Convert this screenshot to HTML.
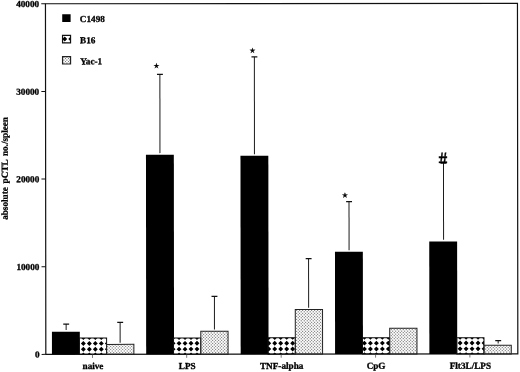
<!DOCTYPE html>
<html lang="en"><head><meta charset="utf-8"><title>absolute pCTL no./spleen</title>
<style>html,body{margin:0;padding:0;background:#fff}body{width:520px;height:372px;overflow:hidden}svg{display:block}text{font-family:'Liberation Serif','DejaVu Serif',serif;font-weight:bold;fill:#000;stroke:#000;stroke-width:0.3px}</style></head><body>
<svg width="520" height="372" viewBox="0 0 520 372">
<defs><clipPath id="c1"><rect x="62.70" y="35.20" width="8.00" height="7.40"/></clipPath><clipPath id="c2"><rect x="62.70" y="56.40" width="8.00" height="7.40"/></clipPath><clipPath id="c3"><rect x="79.17" y="337.82" width="27.27" height="16.33"/></clipPath><clipPath id="c4"><rect x="106.44" y="344.22" width="27.27" height="9.93"/></clipPath><clipPath id="c5"><rect x="173.37" y="337.82" width="27.27" height="16.33"/></clipPath><clipPath id="c6"><rect x="200.64" y="331.22" width="27.27" height="22.93"/></clipPath><clipPath id="c7"><rect x="267.87" y="337.67" width="27.27" height="16.48"/></clipPath><clipPath id="c8"><rect x="295.14" y="309.62" width="27.27" height="44.53"/></clipPath><clipPath id="c9"><rect x="362.27" y="337.77" width="27.27" height="16.38"/></clipPath><clipPath id="c10"><rect x="389.54" y="328.32" width="27.27" height="25.83"/></clipPath><clipPath id="c11"><rect x="456.57" y="337.97" width="27.27" height="16.18"/></clipPath><clipPath id="c12"><rect x="483.84" y="345.42" width="27.27" height="8.73"/></clipPath><clipPath id="c13"><rect x="436.00" y="152.80" width="14.00" height="10.70"/></clipPath></defs>
<rect width="520" height="372" fill="#fff"/>
<g transform="rotate(-0.06 260 186)">
<rect x="45.65" y="3.55" width="472.00" height="350.60" fill="none" stroke="#111" stroke-width="1.2"/>
<line x1="41.45" y1="354.15" x2="45.65" y2="354.15" stroke="#111" stroke-width="1"/>
<text x="39.3" y="357.35" font-size="9.2" text-anchor="end">0</text>
<line x1="41.45" y1="266.50" x2="45.65" y2="266.50" stroke="#111" stroke-width="1"/>
<text x="39.3" y="269.70" font-size="9.2" text-anchor="end">10000</text>
<line x1="41.45" y1="178.85" x2="45.65" y2="178.85" stroke="#111" stroke-width="1"/>
<text x="39.3" y="182.05" font-size="9.2" text-anchor="end">20000</text>
<line x1="41.45" y1="91.20" x2="45.65" y2="91.20" stroke="#111" stroke-width="1"/>
<text x="39.3" y="94.40" font-size="9.2" text-anchor="end">30000</text>
<line x1="41.45" y1="3.55" x2="45.65" y2="3.55" stroke="#111" stroke-width="1"/>
<text x="39.3" y="6.75" font-size="9.2" text-anchor="end">40000</text>
<text transform="translate(7.7 219.6) rotate(-90)" font-size="9.2" word-spacing="1.5">absolute pCTL no./spleen</text>
<rect x="62.4" y="14.1" width="8.4" height="7.7" fill="#000"/>
<text x="80" y="21.9" font-size="9.2">C1498</text>
<path clip-path="url(#c1)" d="M52.94 24.75l2.45 2.45l-2.45 2.45l-2.45 -2.45zM52.94 30.55l2.45 2.45l-2.45 2.45l-2.45 -2.45zM52.94 36.35l2.45 2.45l-2.45 2.45l-2.45 -2.45zM52.94 42.15l2.45 2.45l-2.45 2.45l-2.45 -2.45zM52.94 47.95l2.45 2.45l-2.45 2.45l-2.45 -2.45zM58.92 24.75l2.45 2.45l-2.45 2.45l-2.45 -2.45zM58.92 30.55l2.45 2.45l-2.45 2.45l-2.45 -2.45zM58.92 36.35l2.45 2.45l-2.45 2.45l-2.45 -2.45zM58.92 42.15l2.45 2.45l-2.45 2.45l-2.45 -2.45zM58.92 47.95l2.45 2.45l-2.45 2.45l-2.45 -2.45zM64.90 24.75l2.45 2.45l-2.45 2.45l-2.45 -2.45zM64.90 30.55l2.45 2.45l-2.45 2.45l-2.45 -2.45zM64.90 36.35l2.45 2.45l-2.45 2.45l-2.45 -2.45zM64.90 42.15l2.45 2.45l-2.45 2.45l-2.45 -2.45zM64.90 47.95l2.45 2.45l-2.45 2.45l-2.45 -2.45zM70.88 24.75l2.45 2.45l-2.45 2.45l-2.45 -2.45zM70.88 30.55l2.45 2.45l-2.45 2.45l-2.45 -2.45zM70.88 36.35l2.45 2.45l-2.45 2.45l-2.45 -2.45zM70.88 42.15l2.45 2.45l-2.45 2.45l-2.45 -2.45zM70.88 47.95l2.45 2.45l-2.45 2.45l-2.45 -2.45zM76.86 24.75l2.45 2.45l-2.45 2.45l-2.45 -2.45zM76.86 30.55l2.45 2.45l-2.45 2.45l-2.45 -2.45zM76.86 36.35l2.45 2.45l-2.45 2.45l-2.45 -2.45zM76.86 42.15l2.45 2.45l-2.45 2.45l-2.45 -2.45zM76.86 47.95l2.45 2.45l-2.45 2.45l-2.45 -2.45z" fill="#000"/>
<rect x="62.7" y="35.2" width="8" height="7.4" fill="none" stroke="#111" stroke-width="1.2"/>
<text x="80.2" y="43.1" font-size="9.2">B16</text>
<path clip-path="url(#c2)" d="M50.60 55.40L60.00 64.80M53.60 55.40L63.00 64.80M56.60 55.40L66.00 64.80M59.60 55.40L69.00 64.80M62.60 55.40L72.00 64.80M65.60 55.40L75.00 64.80M68.60 55.40L78.00 64.80M71.60 55.40L81.00 64.80M74.60 55.40L84.00 64.80M59.50 55.40L50.10 64.80M62.50 55.40L53.10 64.80M65.50 55.40L56.10 64.80M68.50 55.40L59.10 64.80M71.50 55.40L62.10 64.80M74.50 55.40L65.10 64.80M77.50 55.40L68.10 64.80M80.50 55.40L71.10 64.80M83.50 55.40L74.10 64.80" stroke="#cacaca" stroke-width="0.42" fill="none"/><path clip-path="url(#c2)" d="M61.05 53.25l0.60 0.60l-0.60 0.60l-0.60 -0.60zM61.05 56.25l0.60 0.60l-0.60 0.60l-0.60 -0.60zM61.05 59.25l0.60 0.60l-0.60 0.60l-0.60 -0.60zM61.05 62.25l0.60 0.60l-0.60 0.60l-0.60 -0.60zM61.05 65.25l0.60 0.60l-0.60 0.60l-0.60 -0.60zM62.55 54.75l0.60 0.60l-0.60 0.60l-0.60 -0.60zM62.55 57.75l0.60 0.60l-0.60 0.60l-0.60 -0.60zM62.55 60.75l0.60 0.60l-0.60 0.60l-0.60 -0.60zM62.55 63.75l0.60 0.60l-0.60 0.60l-0.60 -0.60zM64.05 53.25l0.60 0.60l-0.60 0.60l-0.60 -0.60zM64.05 56.25l0.60 0.60l-0.60 0.60l-0.60 -0.60zM64.05 59.25l0.60 0.60l-0.60 0.60l-0.60 -0.60zM64.05 62.25l0.60 0.60l-0.60 0.60l-0.60 -0.60zM64.05 65.25l0.60 0.60l-0.60 0.60l-0.60 -0.60zM65.55 54.75l0.60 0.60l-0.60 0.60l-0.60 -0.60zM65.55 57.75l0.60 0.60l-0.60 0.60l-0.60 -0.60zM65.55 60.75l0.60 0.60l-0.60 0.60l-0.60 -0.60zM65.55 63.75l0.60 0.60l-0.60 0.60l-0.60 -0.60zM67.05 53.25l0.60 0.60l-0.60 0.60l-0.60 -0.60zM67.05 56.25l0.60 0.60l-0.60 0.60l-0.60 -0.60zM67.05 59.25l0.60 0.60l-0.60 0.60l-0.60 -0.60zM67.05 62.25l0.60 0.60l-0.60 0.60l-0.60 -0.60zM67.05 65.25l0.60 0.60l-0.60 0.60l-0.60 -0.60zM68.55 54.75l0.60 0.60l-0.60 0.60l-0.60 -0.60zM68.55 57.75l0.60 0.60l-0.60 0.60l-0.60 -0.60zM68.55 60.75l0.60 0.60l-0.60 0.60l-0.60 -0.60zM68.55 63.75l0.60 0.60l-0.60 0.60l-0.60 -0.60zM70.05 53.25l0.60 0.60l-0.60 0.60l-0.60 -0.60zM70.05 56.25l0.60 0.60l-0.60 0.60l-0.60 -0.60zM70.05 59.25l0.60 0.60l-0.60 0.60l-0.60 -0.60zM70.05 62.25l0.60 0.60l-0.60 0.60l-0.60 -0.60zM70.05 65.25l0.60 0.60l-0.60 0.60l-0.60 -0.60zM71.55 54.75l0.60 0.60l-0.60 0.60l-0.60 -0.60zM71.55 57.75l0.60 0.60l-0.60 0.60l-0.60 -0.60zM71.55 60.75l0.60 0.60l-0.60 0.60l-0.60 -0.60zM71.55 63.75l0.60 0.60l-0.60 0.60l-0.60 -0.60zM73.05 53.25l0.60 0.60l-0.60 0.60l-0.60 -0.60zM73.05 56.25l0.60 0.60l-0.60 0.60l-0.60 -0.60zM73.05 59.25l0.60 0.60l-0.60 0.60l-0.60 -0.60zM73.05 62.25l0.60 0.60l-0.60 0.60l-0.60 -0.60zM73.05 65.25l0.60 0.60l-0.60 0.60l-0.60 -0.60z" fill="#525252"/>
<rect x="62.7" y="56.4" width="8" height="7.4" fill="none" stroke="#222" stroke-width="1.2"/>
<text x="80.3" y="64.2" font-size="9.2">Yac-1</text>
<path d="M66.00 329.92V323.82" stroke="#1c1c1c" stroke-width="1" fill="none"/><path d="M63.10 323.82H69.00" stroke="#111" stroke-width="1.25" fill="none"/>
<path d="M120.00 342.52V322.22" stroke="#1c1c1c" stroke-width="1" fill="none"/><path d="M117.10 322.22H123.00" stroke="#111" stroke-width="1.25" fill="none"/>
<rect x="51.80" y="331.62" width="27.87" height="22.53" fill="#000"/>
<path clip-path="url(#c3)" d="M71.24 329.20l2.45 2.45l-2.45 2.45l-2.45 -2.45zM71.24 335.00l2.45 2.45l-2.45 2.45l-2.45 -2.45zM71.24 340.80l2.45 2.45l-2.45 2.45l-2.45 -2.45zM71.24 346.60l2.45 2.45l-2.45 2.45l-2.45 -2.45zM71.24 352.40l2.45 2.45l-2.45 2.45l-2.45 -2.45zM71.24 358.20l2.45 2.45l-2.45 2.45l-2.45 -2.45zM77.22 329.20l2.45 2.45l-2.45 2.45l-2.45 -2.45zM77.22 335.00l2.45 2.45l-2.45 2.45l-2.45 -2.45zM77.22 340.80l2.45 2.45l-2.45 2.45l-2.45 -2.45zM77.22 346.60l2.45 2.45l-2.45 2.45l-2.45 -2.45zM77.22 352.40l2.45 2.45l-2.45 2.45l-2.45 -2.45zM77.22 358.20l2.45 2.45l-2.45 2.45l-2.45 -2.45zM83.20 329.20l2.45 2.45l-2.45 2.45l-2.45 -2.45zM83.20 335.00l2.45 2.45l-2.45 2.45l-2.45 -2.45zM83.20 340.80l2.45 2.45l-2.45 2.45l-2.45 -2.45zM83.20 346.60l2.45 2.45l-2.45 2.45l-2.45 -2.45zM83.20 352.40l2.45 2.45l-2.45 2.45l-2.45 -2.45zM83.20 358.20l2.45 2.45l-2.45 2.45l-2.45 -2.45zM89.18 329.20l2.45 2.45l-2.45 2.45l-2.45 -2.45zM89.18 335.00l2.45 2.45l-2.45 2.45l-2.45 -2.45zM89.18 340.80l2.45 2.45l-2.45 2.45l-2.45 -2.45zM89.18 346.60l2.45 2.45l-2.45 2.45l-2.45 -2.45zM89.18 352.40l2.45 2.45l-2.45 2.45l-2.45 -2.45zM89.18 358.20l2.45 2.45l-2.45 2.45l-2.45 -2.45zM95.16 329.20l2.45 2.45l-2.45 2.45l-2.45 -2.45zM95.16 335.00l2.45 2.45l-2.45 2.45l-2.45 -2.45zM95.16 340.80l2.45 2.45l-2.45 2.45l-2.45 -2.45zM95.16 346.60l2.45 2.45l-2.45 2.45l-2.45 -2.45zM95.16 352.40l2.45 2.45l-2.45 2.45l-2.45 -2.45zM95.16 358.20l2.45 2.45l-2.45 2.45l-2.45 -2.45zM101.14 329.20l2.45 2.45l-2.45 2.45l-2.45 -2.45zM101.14 335.00l2.45 2.45l-2.45 2.45l-2.45 -2.45zM101.14 340.80l2.45 2.45l-2.45 2.45l-2.45 -2.45zM101.14 346.60l2.45 2.45l-2.45 2.45l-2.45 -2.45zM101.14 352.40l2.45 2.45l-2.45 2.45l-2.45 -2.45zM101.14 358.20l2.45 2.45l-2.45 2.45l-2.45 -2.45zM107.12 329.20l2.45 2.45l-2.45 2.45l-2.45 -2.45zM107.12 335.00l2.45 2.45l-2.45 2.45l-2.45 -2.45zM107.12 340.80l2.45 2.45l-2.45 2.45l-2.45 -2.45zM107.12 346.60l2.45 2.45l-2.45 2.45l-2.45 -2.45zM107.12 352.40l2.45 2.45l-2.45 2.45l-2.45 -2.45zM107.12 358.20l2.45 2.45l-2.45 2.45l-2.45 -2.45zM113.10 329.20l2.45 2.45l-2.45 2.45l-2.45 -2.45zM113.10 335.00l2.45 2.45l-2.45 2.45l-2.45 -2.45zM113.10 340.80l2.45 2.45l-2.45 2.45l-2.45 -2.45zM113.10 346.60l2.45 2.45l-2.45 2.45l-2.45 -2.45zM113.10 352.40l2.45 2.45l-2.45 2.45l-2.45 -2.45zM113.10 358.20l2.45 2.45l-2.45 2.45l-2.45 -2.45z" fill="#000"/>
<rect x="79.17" y="337.82" width="27.27" height="16.33" fill="none" stroke="#111" stroke-width="1"/>
<path clip-path="url(#c4)" d="M92.42 343.22L104.35 355.15M95.42 343.22L107.35 355.15M98.42 343.22L110.35 355.15M101.42 343.22L113.35 355.15M104.42 343.22L116.35 355.15M107.42 343.22L119.35 355.15M110.42 343.22L122.35 355.15M113.42 343.22L125.35 355.15M116.42 343.22L128.35 355.15M119.42 343.22L131.35 355.15M122.42 343.22L134.35 355.15M125.42 343.22L137.35 355.15M128.42 343.22L140.35 355.15M131.42 343.22L143.35 355.15M134.42 343.22L146.35 355.15M137.42 343.22L149.35 355.15M101.68 343.22L89.75 355.15M104.68 343.22L92.75 355.15M107.68 343.22L95.75 355.15M110.68 343.22L98.75 355.15M113.68 343.22L101.75 355.15M116.68 343.22L104.75 355.15M119.68 343.22L107.75 355.15M122.68 343.22L110.75 355.15M125.68 343.22L113.75 355.15M128.68 343.22L116.75 355.15M131.68 343.22L119.75 355.15M134.68 343.22L122.75 355.15M137.68 343.22L125.75 355.15M140.68 343.22L128.75 355.15M143.68 343.22L131.75 355.15M146.68 343.22L134.75 355.15M149.68 343.22L137.75 355.15" stroke="#cacaca" stroke-width="0.42" fill="none"/><path clip-path="url(#c4)" d="M104.55 342.75l0.60 0.60l-0.60 0.60l-0.60 -0.60zM104.55 345.75l0.60 0.60l-0.60 0.60l-0.60 -0.60zM104.55 348.75l0.60 0.60l-0.60 0.60l-0.60 -0.60zM104.55 351.75l0.60 0.60l-0.60 0.60l-0.60 -0.60zM104.55 354.75l0.60 0.60l-0.60 0.60l-0.60 -0.60zM106.05 341.25l0.60 0.60l-0.60 0.60l-0.60 -0.60zM106.05 344.25l0.60 0.60l-0.60 0.60l-0.60 -0.60zM106.05 347.25l0.60 0.60l-0.60 0.60l-0.60 -0.60zM106.05 350.25l0.60 0.60l-0.60 0.60l-0.60 -0.60zM106.05 353.25l0.60 0.60l-0.60 0.60l-0.60 -0.60zM106.05 356.25l0.60 0.60l-0.60 0.60l-0.60 -0.60zM107.55 342.75l0.60 0.60l-0.60 0.60l-0.60 -0.60zM107.55 345.75l0.60 0.60l-0.60 0.60l-0.60 -0.60zM107.55 348.75l0.60 0.60l-0.60 0.60l-0.60 -0.60zM107.55 351.75l0.60 0.60l-0.60 0.60l-0.60 -0.60zM107.55 354.75l0.60 0.60l-0.60 0.60l-0.60 -0.60zM109.05 341.25l0.60 0.60l-0.60 0.60l-0.60 -0.60zM109.05 344.25l0.60 0.60l-0.60 0.60l-0.60 -0.60zM109.05 347.25l0.60 0.60l-0.60 0.60l-0.60 -0.60zM109.05 350.25l0.60 0.60l-0.60 0.60l-0.60 -0.60zM109.05 353.25l0.60 0.60l-0.60 0.60l-0.60 -0.60zM109.05 356.25l0.60 0.60l-0.60 0.60l-0.60 -0.60zM110.55 342.75l0.60 0.60l-0.60 0.60l-0.60 -0.60zM110.55 345.75l0.60 0.60l-0.60 0.60l-0.60 -0.60zM110.55 348.75l0.60 0.60l-0.60 0.60l-0.60 -0.60zM110.55 351.75l0.60 0.60l-0.60 0.60l-0.60 -0.60zM110.55 354.75l0.60 0.60l-0.60 0.60l-0.60 -0.60zM112.05 341.25l0.60 0.60l-0.60 0.60l-0.60 -0.60zM112.05 344.25l0.60 0.60l-0.60 0.60l-0.60 -0.60zM112.05 347.25l0.60 0.60l-0.60 0.60l-0.60 -0.60zM112.05 350.25l0.60 0.60l-0.60 0.60l-0.60 -0.60zM112.05 353.25l0.60 0.60l-0.60 0.60l-0.60 -0.60zM112.05 356.25l0.60 0.60l-0.60 0.60l-0.60 -0.60zM113.55 342.75l0.60 0.60l-0.60 0.60l-0.60 -0.60zM113.55 345.75l0.60 0.60l-0.60 0.60l-0.60 -0.60zM113.55 348.75l0.60 0.60l-0.60 0.60l-0.60 -0.60zM113.55 351.75l0.60 0.60l-0.60 0.60l-0.60 -0.60zM113.55 354.75l0.60 0.60l-0.60 0.60l-0.60 -0.60zM115.05 341.25l0.60 0.60l-0.60 0.60l-0.60 -0.60zM115.05 344.25l0.60 0.60l-0.60 0.60l-0.60 -0.60zM115.05 347.25l0.60 0.60l-0.60 0.60l-0.60 -0.60zM115.05 350.25l0.60 0.60l-0.60 0.60l-0.60 -0.60zM115.05 353.25l0.60 0.60l-0.60 0.60l-0.60 -0.60zM115.05 356.25l0.60 0.60l-0.60 0.60l-0.60 -0.60zM116.55 342.75l0.60 0.60l-0.60 0.60l-0.60 -0.60zM116.55 345.75l0.60 0.60l-0.60 0.60l-0.60 -0.60zM116.55 348.75l0.60 0.60l-0.60 0.60l-0.60 -0.60zM116.55 351.75l0.60 0.60l-0.60 0.60l-0.60 -0.60zM116.55 354.75l0.60 0.60l-0.60 0.60l-0.60 -0.60zM118.05 341.25l0.60 0.60l-0.60 0.60l-0.60 -0.60zM118.05 344.25l0.60 0.60l-0.60 0.60l-0.60 -0.60zM118.05 347.25l0.60 0.60l-0.60 0.60l-0.60 -0.60zM118.05 350.25l0.60 0.60l-0.60 0.60l-0.60 -0.60zM118.05 353.25l0.60 0.60l-0.60 0.60l-0.60 -0.60zM118.05 356.25l0.60 0.60l-0.60 0.60l-0.60 -0.60zM119.55 342.75l0.60 0.60l-0.60 0.60l-0.60 -0.60zM119.55 345.75l0.60 0.60l-0.60 0.60l-0.60 -0.60zM119.55 348.75l0.60 0.60l-0.60 0.60l-0.60 -0.60zM119.55 351.75l0.60 0.60l-0.60 0.60l-0.60 -0.60zM119.55 354.75l0.60 0.60l-0.60 0.60l-0.60 -0.60zM121.05 341.25l0.60 0.60l-0.60 0.60l-0.60 -0.60zM121.05 344.25l0.60 0.60l-0.60 0.60l-0.60 -0.60zM121.05 347.25l0.60 0.60l-0.60 0.60l-0.60 -0.60zM121.05 350.25l0.60 0.60l-0.60 0.60l-0.60 -0.60zM121.05 353.25l0.60 0.60l-0.60 0.60l-0.60 -0.60zM121.05 356.25l0.60 0.60l-0.60 0.60l-0.60 -0.60zM122.55 342.75l0.60 0.60l-0.60 0.60l-0.60 -0.60zM122.55 345.75l0.60 0.60l-0.60 0.60l-0.60 -0.60zM122.55 348.75l0.60 0.60l-0.60 0.60l-0.60 -0.60zM122.55 351.75l0.60 0.60l-0.60 0.60l-0.60 -0.60zM122.55 354.75l0.60 0.60l-0.60 0.60l-0.60 -0.60zM124.05 341.25l0.60 0.60l-0.60 0.60l-0.60 -0.60zM124.05 344.25l0.60 0.60l-0.60 0.60l-0.60 -0.60zM124.05 347.25l0.60 0.60l-0.60 0.60l-0.60 -0.60zM124.05 350.25l0.60 0.60l-0.60 0.60l-0.60 -0.60zM124.05 353.25l0.60 0.60l-0.60 0.60l-0.60 -0.60zM124.05 356.25l0.60 0.60l-0.60 0.60l-0.60 -0.60zM125.55 342.75l0.60 0.60l-0.60 0.60l-0.60 -0.60zM125.55 345.75l0.60 0.60l-0.60 0.60l-0.60 -0.60zM125.55 348.75l0.60 0.60l-0.60 0.60l-0.60 -0.60zM125.55 351.75l0.60 0.60l-0.60 0.60l-0.60 -0.60zM125.55 354.75l0.60 0.60l-0.60 0.60l-0.60 -0.60zM127.05 341.25l0.60 0.60l-0.60 0.60l-0.60 -0.60zM127.05 344.25l0.60 0.60l-0.60 0.60l-0.60 -0.60zM127.05 347.25l0.60 0.60l-0.60 0.60l-0.60 -0.60zM127.05 350.25l0.60 0.60l-0.60 0.60l-0.60 -0.60zM127.05 353.25l0.60 0.60l-0.60 0.60l-0.60 -0.60zM127.05 356.25l0.60 0.60l-0.60 0.60l-0.60 -0.60zM128.55 342.75l0.60 0.60l-0.60 0.60l-0.60 -0.60zM128.55 345.75l0.60 0.60l-0.60 0.60l-0.60 -0.60zM128.55 348.75l0.60 0.60l-0.60 0.60l-0.60 -0.60zM128.55 351.75l0.60 0.60l-0.60 0.60l-0.60 -0.60zM128.55 354.75l0.60 0.60l-0.60 0.60l-0.60 -0.60zM130.05 341.25l0.60 0.60l-0.60 0.60l-0.60 -0.60zM130.05 344.25l0.60 0.60l-0.60 0.60l-0.60 -0.60zM130.05 347.25l0.60 0.60l-0.60 0.60l-0.60 -0.60zM130.05 350.25l0.60 0.60l-0.60 0.60l-0.60 -0.60zM130.05 353.25l0.60 0.60l-0.60 0.60l-0.60 -0.60zM130.05 356.25l0.60 0.60l-0.60 0.60l-0.60 -0.60zM131.55 342.75l0.60 0.60l-0.60 0.60l-0.60 -0.60zM131.55 345.75l0.60 0.60l-0.60 0.60l-0.60 -0.60zM131.55 348.75l0.60 0.60l-0.60 0.60l-0.60 -0.60zM131.55 351.75l0.60 0.60l-0.60 0.60l-0.60 -0.60zM131.55 354.75l0.60 0.60l-0.60 0.60l-0.60 -0.60zM133.05 341.25l0.60 0.60l-0.60 0.60l-0.60 -0.60zM133.05 344.25l0.60 0.60l-0.60 0.60l-0.60 -0.60zM133.05 347.25l0.60 0.60l-0.60 0.60l-0.60 -0.60zM133.05 350.25l0.60 0.60l-0.60 0.60l-0.60 -0.60zM133.05 353.25l0.60 0.60l-0.60 0.60l-0.60 -0.60zM133.05 356.25l0.60 0.60l-0.60 0.60l-0.60 -0.60zM134.55 342.75l0.60 0.60l-0.60 0.60l-0.60 -0.60zM134.55 345.75l0.60 0.60l-0.60 0.60l-0.60 -0.60zM134.55 348.75l0.60 0.60l-0.60 0.60l-0.60 -0.60zM134.55 351.75l0.60 0.60l-0.60 0.60l-0.60 -0.60zM134.55 354.75l0.60 0.60l-0.60 0.60l-0.60 -0.60zM136.05 341.25l0.60 0.60l-0.60 0.60l-0.60 -0.60zM136.05 344.25l0.60 0.60l-0.60 0.60l-0.60 -0.60zM136.05 347.25l0.60 0.60l-0.60 0.60l-0.60 -0.60zM136.05 350.25l0.60 0.60l-0.60 0.60l-0.60 -0.60zM136.05 353.25l0.60 0.60l-0.60 0.60l-0.60 -0.60zM136.05 356.25l0.60 0.60l-0.60 0.60l-0.60 -0.60z" fill="#525252"/>
<rect x="106.44" y="344.22" width="27.27" height="9.93" fill="none" stroke="#222" stroke-width="1"/>
<line x1="92.31" y1="354.15" x2="92.31" y2="357.75" stroke="#444" stroke-width="0.7"/>
<text x="92.81" y="368.9" font-size="9.2" text-anchor="middle">naive</text>
<path d="M160.00 153.02V74.32" stroke="#1c1c1c" stroke-width="1" fill="none"/><path d="M157.10 74.32H163.00" stroke="#111" stroke-width="1.25" fill="none"/>
<path d="M214.30 329.52V296.22" stroke="#1c1c1c" stroke-width="1" fill="none"/><path d="M211.40 296.22H217.30" stroke="#111" stroke-width="1.25" fill="none"/>
<rect x="146.00" y="154.72" width="27.87" height="199.43" fill="#000"/>
<path clip-path="url(#c5)" d="M166.92 329.20l2.45 2.45l-2.45 2.45l-2.45 -2.45zM166.92 335.00l2.45 2.45l-2.45 2.45l-2.45 -2.45zM166.92 340.80l2.45 2.45l-2.45 2.45l-2.45 -2.45zM166.92 346.60l2.45 2.45l-2.45 2.45l-2.45 -2.45zM166.92 352.40l2.45 2.45l-2.45 2.45l-2.45 -2.45zM166.92 358.20l2.45 2.45l-2.45 2.45l-2.45 -2.45zM172.90 329.20l2.45 2.45l-2.45 2.45l-2.45 -2.45zM172.90 335.00l2.45 2.45l-2.45 2.45l-2.45 -2.45zM172.90 340.80l2.45 2.45l-2.45 2.45l-2.45 -2.45zM172.90 346.60l2.45 2.45l-2.45 2.45l-2.45 -2.45zM172.90 352.40l2.45 2.45l-2.45 2.45l-2.45 -2.45zM172.90 358.20l2.45 2.45l-2.45 2.45l-2.45 -2.45zM178.88 329.20l2.45 2.45l-2.45 2.45l-2.45 -2.45zM178.88 335.00l2.45 2.45l-2.45 2.45l-2.45 -2.45zM178.88 340.80l2.45 2.45l-2.45 2.45l-2.45 -2.45zM178.88 346.60l2.45 2.45l-2.45 2.45l-2.45 -2.45zM178.88 352.40l2.45 2.45l-2.45 2.45l-2.45 -2.45zM178.88 358.20l2.45 2.45l-2.45 2.45l-2.45 -2.45zM184.86 329.20l2.45 2.45l-2.45 2.45l-2.45 -2.45zM184.86 335.00l2.45 2.45l-2.45 2.45l-2.45 -2.45zM184.86 340.80l2.45 2.45l-2.45 2.45l-2.45 -2.45zM184.86 346.60l2.45 2.45l-2.45 2.45l-2.45 -2.45zM184.86 352.40l2.45 2.45l-2.45 2.45l-2.45 -2.45zM184.86 358.20l2.45 2.45l-2.45 2.45l-2.45 -2.45zM190.84 329.20l2.45 2.45l-2.45 2.45l-2.45 -2.45zM190.84 335.00l2.45 2.45l-2.45 2.45l-2.45 -2.45zM190.84 340.80l2.45 2.45l-2.45 2.45l-2.45 -2.45zM190.84 346.60l2.45 2.45l-2.45 2.45l-2.45 -2.45zM190.84 352.40l2.45 2.45l-2.45 2.45l-2.45 -2.45zM190.84 358.20l2.45 2.45l-2.45 2.45l-2.45 -2.45zM196.82 329.20l2.45 2.45l-2.45 2.45l-2.45 -2.45zM196.82 335.00l2.45 2.45l-2.45 2.45l-2.45 -2.45zM196.82 340.80l2.45 2.45l-2.45 2.45l-2.45 -2.45zM196.82 346.60l2.45 2.45l-2.45 2.45l-2.45 -2.45zM196.82 352.40l2.45 2.45l-2.45 2.45l-2.45 -2.45zM196.82 358.20l2.45 2.45l-2.45 2.45l-2.45 -2.45zM202.80 329.20l2.45 2.45l-2.45 2.45l-2.45 -2.45zM202.80 335.00l2.45 2.45l-2.45 2.45l-2.45 -2.45zM202.80 340.80l2.45 2.45l-2.45 2.45l-2.45 -2.45zM202.80 346.60l2.45 2.45l-2.45 2.45l-2.45 -2.45zM202.80 352.40l2.45 2.45l-2.45 2.45l-2.45 -2.45zM202.80 358.20l2.45 2.45l-2.45 2.45l-2.45 -2.45zM208.78 329.20l2.45 2.45l-2.45 2.45l-2.45 -2.45zM208.78 335.00l2.45 2.45l-2.45 2.45l-2.45 -2.45zM208.78 340.80l2.45 2.45l-2.45 2.45l-2.45 -2.45zM208.78 346.60l2.45 2.45l-2.45 2.45l-2.45 -2.45zM208.78 352.40l2.45 2.45l-2.45 2.45l-2.45 -2.45zM208.78 358.20l2.45 2.45l-2.45 2.45l-2.45 -2.45z" fill="#000"/>
<rect x="173.37" y="337.82" width="27.27" height="16.33" fill="none" stroke="#111" stroke-width="1"/>
<path clip-path="url(#c6)" d="M172.42 330.22L197.35 355.15M175.42 330.22L200.35 355.15M178.42 330.22L203.35 355.15M181.42 330.22L206.35 355.15M184.42 330.22L209.35 355.15M187.42 330.22L212.35 355.15M190.42 330.22L215.35 355.15M193.42 330.22L218.35 355.15M196.42 330.22L221.35 355.15M199.42 330.22L224.35 355.15M202.42 330.22L227.35 355.15M205.42 330.22L230.35 355.15M208.42 330.22L233.35 355.15M211.42 330.22L236.35 355.15M214.42 330.22L239.35 355.15M217.42 330.22L242.35 355.15M220.42 330.22L245.35 355.15M223.42 330.22L248.35 355.15M226.42 330.22L251.35 355.15M229.42 330.22L254.35 355.15M232.42 330.22L257.35 355.15M195.68 330.22L170.75 355.15M198.68 330.22L173.75 355.15M201.68 330.22L176.75 355.15M204.68 330.22L179.75 355.15M207.68 330.22L182.75 355.15M210.68 330.22L185.75 355.15M213.68 330.22L188.75 355.15M216.68 330.22L191.75 355.15M219.68 330.22L194.75 355.15M222.68 330.22L197.75 355.15M225.68 330.22L200.75 355.15M228.68 330.22L203.75 355.15M231.68 330.22L206.75 355.15M234.68 330.22L209.75 355.15M237.68 330.22L212.75 355.15M240.68 330.22L215.75 355.15M243.68 330.22L218.75 355.15M246.68 330.22L221.75 355.15M249.68 330.22L224.75 355.15M252.68 330.22L227.75 355.15M255.68 330.22L230.75 355.15" stroke="#cacaca" stroke-width="0.42" fill="none"/><path clip-path="url(#c6)" d="M199.05 329.25l0.60 0.60l-0.60 0.60l-0.60 -0.60zM199.05 332.25l0.60 0.60l-0.60 0.60l-0.60 -0.60zM199.05 335.25l0.60 0.60l-0.60 0.60l-0.60 -0.60zM199.05 338.25l0.60 0.60l-0.60 0.60l-0.60 -0.60zM199.05 341.25l0.60 0.60l-0.60 0.60l-0.60 -0.60zM199.05 344.25l0.60 0.60l-0.60 0.60l-0.60 -0.60zM199.05 347.25l0.60 0.60l-0.60 0.60l-0.60 -0.60zM199.05 350.25l0.60 0.60l-0.60 0.60l-0.60 -0.60zM199.05 353.25l0.60 0.60l-0.60 0.60l-0.60 -0.60zM199.05 356.25l0.60 0.60l-0.60 0.60l-0.60 -0.60zM200.55 327.75l0.60 0.60l-0.60 0.60l-0.60 -0.60zM200.55 330.75l0.60 0.60l-0.60 0.60l-0.60 -0.60zM200.55 333.75l0.60 0.60l-0.60 0.60l-0.60 -0.60zM200.55 336.75l0.60 0.60l-0.60 0.60l-0.60 -0.60zM200.55 339.75l0.60 0.60l-0.60 0.60l-0.60 -0.60zM200.55 342.75l0.60 0.60l-0.60 0.60l-0.60 -0.60zM200.55 345.75l0.60 0.60l-0.60 0.60l-0.60 -0.60zM200.55 348.75l0.60 0.60l-0.60 0.60l-0.60 -0.60zM200.55 351.75l0.60 0.60l-0.60 0.60l-0.60 -0.60zM200.55 354.75l0.60 0.60l-0.60 0.60l-0.60 -0.60zM202.05 329.25l0.60 0.60l-0.60 0.60l-0.60 -0.60zM202.05 332.25l0.60 0.60l-0.60 0.60l-0.60 -0.60zM202.05 335.25l0.60 0.60l-0.60 0.60l-0.60 -0.60zM202.05 338.25l0.60 0.60l-0.60 0.60l-0.60 -0.60zM202.05 341.25l0.60 0.60l-0.60 0.60l-0.60 -0.60zM202.05 344.25l0.60 0.60l-0.60 0.60l-0.60 -0.60zM202.05 347.25l0.60 0.60l-0.60 0.60l-0.60 -0.60zM202.05 350.25l0.60 0.60l-0.60 0.60l-0.60 -0.60zM202.05 353.25l0.60 0.60l-0.60 0.60l-0.60 -0.60zM202.05 356.25l0.60 0.60l-0.60 0.60l-0.60 -0.60zM203.55 327.75l0.60 0.60l-0.60 0.60l-0.60 -0.60zM203.55 330.75l0.60 0.60l-0.60 0.60l-0.60 -0.60zM203.55 333.75l0.60 0.60l-0.60 0.60l-0.60 -0.60zM203.55 336.75l0.60 0.60l-0.60 0.60l-0.60 -0.60zM203.55 339.75l0.60 0.60l-0.60 0.60l-0.60 -0.60zM203.55 342.75l0.60 0.60l-0.60 0.60l-0.60 -0.60zM203.55 345.75l0.60 0.60l-0.60 0.60l-0.60 -0.60zM203.55 348.75l0.60 0.60l-0.60 0.60l-0.60 -0.60zM203.55 351.75l0.60 0.60l-0.60 0.60l-0.60 -0.60zM203.55 354.75l0.60 0.60l-0.60 0.60l-0.60 -0.60zM205.05 329.25l0.60 0.60l-0.60 0.60l-0.60 -0.60zM205.05 332.25l0.60 0.60l-0.60 0.60l-0.60 -0.60zM205.05 335.25l0.60 0.60l-0.60 0.60l-0.60 -0.60zM205.05 338.25l0.60 0.60l-0.60 0.60l-0.60 -0.60zM205.05 341.25l0.60 0.60l-0.60 0.60l-0.60 -0.60zM205.05 344.25l0.60 0.60l-0.60 0.60l-0.60 -0.60zM205.05 347.25l0.60 0.60l-0.60 0.60l-0.60 -0.60zM205.05 350.25l0.60 0.60l-0.60 0.60l-0.60 -0.60zM205.05 353.25l0.60 0.60l-0.60 0.60l-0.60 -0.60zM205.05 356.25l0.60 0.60l-0.60 0.60l-0.60 -0.60zM206.55 327.75l0.60 0.60l-0.60 0.60l-0.60 -0.60zM206.55 330.75l0.60 0.60l-0.60 0.60l-0.60 -0.60zM206.55 333.75l0.60 0.60l-0.60 0.60l-0.60 -0.60zM206.55 336.75l0.60 0.60l-0.60 0.60l-0.60 -0.60zM206.55 339.75l0.60 0.60l-0.60 0.60l-0.60 -0.60zM206.55 342.75l0.60 0.60l-0.60 0.60l-0.60 -0.60zM206.55 345.75l0.60 0.60l-0.60 0.60l-0.60 -0.60zM206.55 348.75l0.60 0.60l-0.60 0.60l-0.60 -0.60zM206.55 351.75l0.60 0.60l-0.60 0.60l-0.60 -0.60zM206.55 354.75l0.60 0.60l-0.60 0.60l-0.60 -0.60zM208.05 329.25l0.60 0.60l-0.60 0.60l-0.60 -0.60zM208.05 332.25l0.60 0.60l-0.60 0.60l-0.60 -0.60zM208.05 335.25l0.60 0.60l-0.60 0.60l-0.60 -0.60zM208.05 338.25l0.60 0.60l-0.60 0.60l-0.60 -0.60zM208.05 341.25l0.60 0.60l-0.60 0.60l-0.60 -0.60zM208.05 344.25l0.60 0.60l-0.60 0.60l-0.60 -0.60zM208.05 347.25l0.60 0.60l-0.60 0.60l-0.60 -0.60zM208.05 350.25l0.60 0.60l-0.60 0.60l-0.60 -0.60zM208.05 353.25l0.60 0.60l-0.60 0.60l-0.60 -0.60zM208.05 356.25l0.60 0.60l-0.60 0.60l-0.60 -0.60zM209.55 327.75l0.60 0.60l-0.60 0.60l-0.60 -0.60zM209.55 330.75l0.60 0.60l-0.60 0.60l-0.60 -0.60zM209.55 333.75l0.60 0.60l-0.60 0.60l-0.60 -0.60zM209.55 336.75l0.60 0.60l-0.60 0.60l-0.60 -0.60zM209.55 339.75l0.60 0.60l-0.60 0.60l-0.60 -0.60zM209.55 342.75l0.60 0.60l-0.60 0.60l-0.60 -0.60zM209.55 345.75l0.60 0.60l-0.60 0.60l-0.60 -0.60zM209.55 348.75l0.60 0.60l-0.60 0.60l-0.60 -0.60zM209.55 351.75l0.60 0.60l-0.60 0.60l-0.60 -0.60zM209.55 354.75l0.60 0.60l-0.60 0.60l-0.60 -0.60zM211.05 329.25l0.60 0.60l-0.60 0.60l-0.60 -0.60zM211.05 332.25l0.60 0.60l-0.60 0.60l-0.60 -0.60zM211.05 335.25l0.60 0.60l-0.60 0.60l-0.60 -0.60zM211.05 338.25l0.60 0.60l-0.60 0.60l-0.60 -0.60zM211.05 341.25l0.60 0.60l-0.60 0.60l-0.60 -0.60zM211.05 344.25l0.60 0.60l-0.60 0.60l-0.60 -0.60zM211.05 347.25l0.60 0.60l-0.60 0.60l-0.60 -0.60zM211.05 350.25l0.60 0.60l-0.60 0.60l-0.60 -0.60zM211.05 353.25l0.60 0.60l-0.60 0.60l-0.60 -0.60zM211.05 356.25l0.60 0.60l-0.60 0.60l-0.60 -0.60zM212.55 327.75l0.60 0.60l-0.60 0.60l-0.60 -0.60zM212.55 330.75l0.60 0.60l-0.60 0.60l-0.60 -0.60zM212.55 333.75l0.60 0.60l-0.60 0.60l-0.60 -0.60zM212.55 336.75l0.60 0.60l-0.60 0.60l-0.60 -0.60zM212.55 339.75l0.60 0.60l-0.60 0.60l-0.60 -0.60zM212.55 342.75l0.60 0.60l-0.60 0.60l-0.60 -0.60zM212.55 345.75l0.60 0.60l-0.60 0.60l-0.60 -0.60zM212.55 348.75l0.60 0.60l-0.60 0.60l-0.60 -0.60zM212.55 351.75l0.60 0.60l-0.60 0.60l-0.60 -0.60zM212.55 354.75l0.60 0.60l-0.60 0.60l-0.60 -0.60zM214.05 329.25l0.60 0.60l-0.60 0.60l-0.60 -0.60zM214.05 332.25l0.60 0.60l-0.60 0.60l-0.60 -0.60zM214.05 335.25l0.60 0.60l-0.60 0.60l-0.60 -0.60zM214.05 338.25l0.60 0.60l-0.60 0.60l-0.60 -0.60zM214.05 341.25l0.60 0.60l-0.60 0.60l-0.60 -0.60zM214.05 344.25l0.60 0.60l-0.60 0.60l-0.60 -0.60zM214.05 347.25l0.60 0.60l-0.60 0.60l-0.60 -0.60zM214.05 350.25l0.60 0.60l-0.60 0.60l-0.60 -0.60zM214.05 353.25l0.60 0.60l-0.60 0.60l-0.60 -0.60zM214.05 356.25l0.60 0.60l-0.60 0.60l-0.60 -0.60zM215.55 327.75l0.60 0.60l-0.60 0.60l-0.60 -0.60zM215.55 330.75l0.60 0.60l-0.60 0.60l-0.60 -0.60zM215.55 333.75l0.60 0.60l-0.60 0.60l-0.60 -0.60zM215.55 336.75l0.60 0.60l-0.60 0.60l-0.60 -0.60zM215.55 339.75l0.60 0.60l-0.60 0.60l-0.60 -0.60zM215.55 342.75l0.60 0.60l-0.60 0.60l-0.60 -0.60zM215.55 345.75l0.60 0.60l-0.60 0.60l-0.60 -0.60zM215.55 348.75l0.60 0.60l-0.60 0.60l-0.60 -0.60zM215.55 351.75l0.60 0.60l-0.60 0.60l-0.60 -0.60zM215.55 354.75l0.60 0.60l-0.60 0.60l-0.60 -0.60zM217.05 329.25l0.60 0.60l-0.60 0.60l-0.60 -0.60zM217.05 332.25l0.60 0.60l-0.60 0.60l-0.60 -0.60zM217.05 335.25l0.60 0.60l-0.60 0.60l-0.60 -0.60zM217.05 338.25l0.60 0.60l-0.60 0.60l-0.60 -0.60zM217.05 341.25l0.60 0.60l-0.60 0.60l-0.60 -0.60zM217.05 344.25l0.60 0.60l-0.60 0.60l-0.60 -0.60zM217.05 347.25l0.60 0.60l-0.60 0.60l-0.60 -0.60zM217.05 350.25l0.60 0.60l-0.60 0.60l-0.60 -0.60zM217.05 353.25l0.60 0.60l-0.60 0.60l-0.60 -0.60zM217.05 356.25l0.60 0.60l-0.60 0.60l-0.60 -0.60zM218.55 327.75l0.60 0.60l-0.60 0.60l-0.60 -0.60zM218.55 330.75l0.60 0.60l-0.60 0.60l-0.60 -0.60zM218.55 333.75l0.60 0.60l-0.60 0.60l-0.60 -0.60zM218.55 336.75l0.60 0.60l-0.60 0.60l-0.60 -0.60zM218.55 339.75l0.60 0.60l-0.60 0.60l-0.60 -0.60zM218.55 342.75l0.60 0.60l-0.60 0.60l-0.60 -0.60zM218.55 345.75l0.60 0.60l-0.60 0.60l-0.60 -0.60zM218.55 348.75l0.60 0.60l-0.60 0.60l-0.60 -0.60zM218.55 351.75l0.60 0.60l-0.60 0.60l-0.60 -0.60zM218.55 354.75l0.60 0.60l-0.60 0.60l-0.60 -0.60zM220.05 329.25l0.60 0.60l-0.60 0.60l-0.60 -0.60zM220.05 332.25l0.60 0.60l-0.60 0.60l-0.60 -0.60zM220.05 335.25l0.60 0.60l-0.60 0.60l-0.60 -0.60zM220.05 338.25l0.60 0.60l-0.60 0.60l-0.60 -0.60zM220.05 341.25l0.60 0.60l-0.60 0.60l-0.60 -0.60zM220.05 344.25l0.60 0.60l-0.60 0.60l-0.60 -0.60zM220.05 347.25l0.60 0.60l-0.60 0.60l-0.60 -0.60zM220.05 350.25l0.60 0.60l-0.60 0.60l-0.60 -0.60zM220.05 353.25l0.60 0.60l-0.60 0.60l-0.60 -0.60zM220.05 356.25l0.60 0.60l-0.60 0.60l-0.60 -0.60zM221.55 327.75l0.60 0.60l-0.60 0.60l-0.60 -0.60zM221.55 330.75l0.60 0.60l-0.60 0.60l-0.60 -0.60zM221.55 333.75l0.60 0.60l-0.60 0.60l-0.60 -0.60zM221.55 336.75l0.60 0.60l-0.60 0.60l-0.60 -0.60zM221.55 339.75l0.60 0.60l-0.60 0.60l-0.60 -0.60zM221.55 342.75l0.60 0.60l-0.60 0.60l-0.60 -0.60zM221.55 345.75l0.60 0.60l-0.60 0.60l-0.60 -0.60zM221.55 348.75l0.60 0.60l-0.60 0.60l-0.60 -0.60zM221.55 351.75l0.60 0.60l-0.60 0.60l-0.60 -0.60zM221.55 354.75l0.60 0.60l-0.60 0.60l-0.60 -0.60zM223.05 329.25l0.60 0.60l-0.60 0.60l-0.60 -0.60zM223.05 332.25l0.60 0.60l-0.60 0.60l-0.60 -0.60zM223.05 335.25l0.60 0.60l-0.60 0.60l-0.60 -0.60zM223.05 338.25l0.60 0.60l-0.60 0.60l-0.60 -0.60zM223.05 341.25l0.60 0.60l-0.60 0.60l-0.60 -0.60zM223.05 344.25l0.60 0.60l-0.60 0.60l-0.60 -0.60zM223.05 347.25l0.60 0.60l-0.60 0.60l-0.60 -0.60zM223.05 350.25l0.60 0.60l-0.60 0.60l-0.60 -0.60zM223.05 353.25l0.60 0.60l-0.60 0.60l-0.60 -0.60zM223.05 356.25l0.60 0.60l-0.60 0.60l-0.60 -0.60zM224.55 327.75l0.60 0.60l-0.60 0.60l-0.60 -0.60zM224.55 330.75l0.60 0.60l-0.60 0.60l-0.60 -0.60zM224.55 333.75l0.60 0.60l-0.60 0.60l-0.60 -0.60zM224.55 336.75l0.60 0.60l-0.60 0.60l-0.60 -0.60zM224.55 339.75l0.60 0.60l-0.60 0.60l-0.60 -0.60zM224.55 342.75l0.60 0.60l-0.60 0.60l-0.60 -0.60zM224.55 345.75l0.60 0.60l-0.60 0.60l-0.60 -0.60zM224.55 348.75l0.60 0.60l-0.60 0.60l-0.60 -0.60zM224.55 351.75l0.60 0.60l-0.60 0.60l-0.60 -0.60zM224.55 354.75l0.60 0.60l-0.60 0.60l-0.60 -0.60zM226.05 329.25l0.60 0.60l-0.60 0.60l-0.60 -0.60zM226.05 332.25l0.60 0.60l-0.60 0.60l-0.60 -0.60zM226.05 335.25l0.60 0.60l-0.60 0.60l-0.60 -0.60zM226.05 338.25l0.60 0.60l-0.60 0.60l-0.60 -0.60zM226.05 341.25l0.60 0.60l-0.60 0.60l-0.60 -0.60zM226.05 344.25l0.60 0.60l-0.60 0.60l-0.60 -0.60zM226.05 347.25l0.60 0.60l-0.60 0.60l-0.60 -0.60zM226.05 350.25l0.60 0.60l-0.60 0.60l-0.60 -0.60zM226.05 353.25l0.60 0.60l-0.60 0.60l-0.60 -0.60zM226.05 356.25l0.60 0.60l-0.60 0.60l-0.60 -0.60zM227.55 327.75l0.60 0.60l-0.60 0.60l-0.60 -0.60zM227.55 330.75l0.60 0.60l-0.60 0.60l-0.60 -0.60zM227.55 333.75l0.60 0.60l-0.60 0.60l-0.60 -0.60zM227.55 336.75l0.60 0.60l-0.60 0.60l-0.60 -0.60zM227.55 339.75l0.60 0.60l-0.60 0.60l-0.60 -0.60zM227.55 342.75l0.60 0.60l-0.60 0.60l-0.60 -0.60zM227.55 345.75l0.60 0.60l-0.60 0.60l-0.60 -0.60zM227.55 348.75l0.60 0.60l-0.60 0.60l-0.60 -0.60zM227.55 351.75l0.60 0.60l-0.60 0.60l-0.60 -0.60zM227.55 354.75l0.60 0.60l-0.60 0.60l-0.60 -0.60zM229.05 329.25l0.60 0.60l-0.60 0.60l-0.60 -0.60zM229.05 332.25l0.60 0.60l-0.60 0.60l-0.60 -0.60zM229.05 335.25l0.60 0.60l-0.60 0.60l-0.60 -0.60zM229.05 338.25l0.60 0.60l-0.60 0.60l-0.60 -0.60zM229.05 341.25l0.60 0.60l-0.60 0.60l-0.60 -0.60zM229.05 344.25l0.60 0.60l-0.60 0.60l-0.60 -0.60zM229.05 347.25l0.60 0.60l-0.60 0.60l-0.60 -0.60zM229.05 350.25l0.60 0.60l-0.60 0.60l-0.60 -0.60zM229.05 353.25l0.60 0.60l-0.60 0.60l-0.60 -0.60zM229.05 356.25l0.60 0.60l-0.60 0.60l-0.60 -0.60zM230.55 327.75l0.60 0.60l-0.60 0.60l-0.60 -0.60zM230.55 330.75l0.60 0.60l-0.60 0.60l-0.60 -0.60zM230.55 333.75l0.60 0.60l-0.60 0.60l-0.60 -0.60zM230.55 336.75l0.60 0.60l-0.60 0.60l-0.60 -0.60zM230.55 339.75l0.60 0.60l-0.60 0.60l-0.60 -0.60zM230.55 342.75l0.60 0.60l-0.60 0.60l-0.60 -0.60zM230.55 345.75l0.60 0.60l-0.60 0.60l-0.60 -0.60zM230.55 348.75l0.60 0.60l-0.60 0.60l-0.60 -0.60zM230.55 351.75l0.60 0.60l-0.60 0.60l-0.60 -0.60zM230.55 354.75l0.60 0.60l-0.60 0.60l-0.60 -0.60z" fill="#525252"/>
<rect x="200.64" y="331.22" width="27.27" height="22.93" fill="none" stroke="#222" stroke-width="1"/>
<line x1="186.50" y1="354.15" x2="186.50" y2="357.75" stroke="#444" stroke-width="0.7"/>
<text x="187.00" y="368.9" font-size="9.2" text-anchor="middle">LPS</text>
<path d="M254.50 154.12V56.92" stroke="#1c1c1c" stroke-width="1" fill="none"/><path d="M251.60 56.92H257.50" stroke="#111" stroke-width="1.25" fill="none"/>
<path d="M308.50 307.92V258.62" stroke="#1c1c1c" stroke-width="1" fill="none"/><path d="M305.60 258.62H311.50" stroke="#111" stroke-width="1.25" fill="none"/>
<rect x="240.50" y="155.82" width="27.87" height="198.33" fill="#000"/>
<path clip-path="url(#c7)" d="M256.62 329.20l2.45 2.45l-2.45 2.45l-2.45 -2.45zM256.62 335.00l2.45 2.45l-2.45 2.45l-2.45 -2.45zM256.62 340.80l2.45 2.45l-2.45 2.45l-2.45 -2.45zM256.62 346.60l2.45 2.45l-2.45 2.45l-2.45 -2.45zM256.62 352.40l2.45 2.45l-2.45 2.45l-2.45 -2.45zM256.62 358.20l2.45 2.45l-2.45 2.45l-2.45 -2.45zM262.60 329.20l2.45 2.45l-2.45 2.45l-2.45 -2.45zM262.60 335.00l2.45 2.45l-2.45 2.45l-2.45 -2.45zM262.60 340.80l2.45 2.45l-2.45 2.45l-2.45 -2.45zM262.60 346.60l2.45 2.45l-2.45 2.45l-2.45 -2.45zM262.60 352.40l2.45 2.45l-2.45 2.45l-2.45 -2.45zM262.60 358.20l2.45 2.45l-2.45 2.45l-2.45 -2.45zM268.58 329.20l2.45 2.45l-2.45 2.45l-2.45 -2.45zM268.58 335.00l2.45 2.45l-2.45 2.45l-2.45 -2.45zM268.58 340.80l2.45 2.45l-2.45 2.45l-2.45 -2.45zM268.58 346.60l2.45 2.45l-2.45 2.45l-2.45 -2.45zM268.58 352.40l2.45 2.45l-2.45 2.45l-2.45 -2.45zM268.58 358.20l2.45 2.45l-2.45 2.45l-2.45 -2.45zM274.56 329.20l2.45 2.45l-2.45 2.45l-2.45 -2.45zM274.56 335.00l2.45 2.45l-2.45 2.45l-2.45 -2.45zM274.56 340.80l2.45 2.45l-2.45 2.45l-2.45 -2.45zM274.56 346.60l2.45 2.45l-2.45 2.45l-2.45 -2.45zM274.56 352.40l2.45 2.45l-2.45 2.45l-2.45 -2.45zM274.56 358.20l2.45 2.45l-2.45 2.45l-2.45 -2.45zM280.54 329.20l2.45 2.45l-2.45 2.45l-2.45 -2.45zM280.54 335.00l2.45 2.45l-2.45 2.45l-2.45 -2.45zM280.54 340.80l2.45 2.45l-2.45 2.45l-2.45 -2.45zM280.54 346.60l2.45 2.45l-2.45 2.45l-2.45 -2.45zM280.54 352.40l2.45 2.45l-2.45 2.45l-2.45 -2.45zM280.54 358.20l2.45 2.45l-2.45 2.45l-2.45 -2.45zM286.52 329.20l2.45 2.45l-2.45 2.45l-2.45 -2.45zM286.52 335.00l2.45 2.45l-2.45 2.45l-2.45 -2.45zM286.52 340.80l2.45 2.45l-2.45 2.45l-2.45 -2.45zM286.52 346.60l2.45 2.45l-2.45 2.45l-2.45 -2.45zM286.52 352.40l2.45 2.45l-2.45 2.45l-2.45 -2.45zM286.52 358.20l2.45 2.45l-2.45 2.45l-2.45 -2.45zM292.50 329.20l2.45 2.45l-2.45 2.45l-2.45 -2.45zM292.50 335.00l2.45 2.45l-2.45 2.45l-2.45 -2.45zM292.50 340.80l2.45 2.45l-2.45 2.45l-2.45 -2.45zM292.50 346.60l2.45 2.45l-2.45 2.45l-2.45 -2.45zM292.50 352.40l2.45 2.45l-2.45 2.45l-2.45 -2.45zM292.50 358.20l2.45 2.45l-2.45 2.45l-2.45 -2.45zM298.48 329.20l2.45 2.45l-2.45 2.45l-2.45 -2.45zM298.48 335.00l2.45 2.45l-2.45 2.45l-2.45 -2.45zM298.48 340.80l2.45 2.45l-2.45 2.45l-2.45 -2.45zM298.48 346.60l2.45 2.45l-2.45 2.45l-2.45 -2.45zM298.48 352.40l2.45 2.45l-2.45 2.45l-2.45 -2.45zM298.48 358.20l2.45 2.45l-2.45 2.45l-2.45 -2.45zM304.46 329.20l2.45 2.45l-2.45 2.45l-2.45 -2.45zM304.46 335.00l2.45 2.45l-2.45 2.45l-2.45 -2.45zM304.46 340.80l2.45 2.45l-2.45 2.45l-2.45 -2.45zM304.46 346.60l2.45 2.45l-2.45 2.45l-2.45 -2.45zM304.46 352.40l2.45 2.45l-2.45 2.45l-2.45 -2.45zM304.46 358.20l2.45 2.45l-2.45 2.45l-2.45 -2.45z" fill="#000"/>
<rect x="267.87" y="337.67" width="27.27" height="16.48" fill="none" stroke="#111" stroke-width="1"/>
<path clip-path="url(#c8)" d="M243.82 308.62L290.35 355.15M246.82 308.62L293.35 355.15M249.82 308.62L296.35 355.15M252.82 308.62L299.35 355.15M255.82 308.62L302.35 355.15M258.82 308.62L305.35 355.15M261.82 308.62L308.35 355.15M264.82 308.62L311.35 355.15M267.82 308.62L314.35 355.15M270.82 308.62L317.35 355.15M273.82 308.62L320.35 355.15M276.82 308.62L323.35 355.15M279.82 308.62L326.35 355.15M282.82 308.62L329.35 355.15M285.82 308.62L332.35 355.15M288.82 308.62L335.35 355.15M291.82 308.62L338.35 355.15M294.82 308.62L341.35 355.15M297.82 308.62L344.35 355.15M300.82 308.62L347.35 355.15M303.82 308.62L350.35 355.15M306.82 308.62L353.35 355.15M309.82 308.62L356.35 355.15M312.82 308.62L359.35 355.15M315.82 308.62L362.35 355.15M318.82 308.62L365.35 355.15M321.82 308.62L368.35 355.15M324.82 308.62L371.35 355.15M292.28 308.62L245.75 355.15M295.28 308.62L248.75 355.15M298.28 308.62L251.75 355.15M301.28 308.62L254.75 355.15M304.28 308.62L257.75 355.15M307.28 308.62L260.75 355.15M310.28 308.62L263.75 355.15M313.28 308.62L266.75 355.15M316.28 308.62L269.75 355.15M319.28 308.62L272.75 355.15M322.28 308.62L275.75 355.15M325.28 308.62L278.75 355.15M328.28 308.62L281.75 355.15M331.28 308.62L284.75 355.15M334.28 308.62L287.75 355.15M337.28 308.62L290.75 355.15M340.28 308.62L293.75 355.15M343.28 308.62L296.75 355.15M346.28 308.62L299.75 355.15M349.28 308.62L302.75 355.15M352.28 308.62L305.75 355.15M355.28 308.62L308.75 355.15M358.28 308.62L311.75 355.15M361.28 308.62L314.75 355.15M364.28 308.62L317.75 355.15M367.28 308.62L320.75 355.15M370.28 308.62L323.75 355.15M373.28 308.62L326.75 355.15" stroke="#cacaca" stroke-width="0.42" fill="none"/><path clip-path="url(#c8)" d="M293.55 306.75l0.60 0.60l-0.60 0.60l-0.60 -0.60zM293.55 309.75l0.60 0.60l-0.60 0.60l-0.60 -0.60zM293.55 312.75l0.60 0.60l-0.60 0.60l-0.60 -0.60zM293.55 315.75l0.60 0.60l-0.60 0.60l-0.60 -0.60zM293.55 318.75l0.60 0.60l-0.60 0.60l-0.60 -0.60zM293.55 321.75l0.60 0.60l-0.60 0.60l-0.60 -0.60zM293.55 324.75l0.60 0.60l-0.60 0.60l-0.60 -0.60zM293.55 327.75l0.60 0.60l-0.60 0.60l-0.60 -0.60zM293.55 330.75l0.60 0.60l-0.60 0.60l-0.60 -0.60zM293.55 333.75l0.60 0.60l-0.60 0.60l-0.60 -0.60zM293.55 336.75l0.60 0.60l-0.60 0.60l-0.60 -0.60zM293.55 339.75l0.60 0.60l-0.60 0.60l-0.60 -0.60zM293.55 342.75l0.60 0.60l-0.60 0.60l-0.60 -0.60zM293.55 345.75l0.60 0.60l-0.60 0.60l-0.60 -0.60zM293.55 348.75l0.60 0.60l-0.60 0.60l-0.60 -0.60zM293.55 351.75l0.60 0.60l-0.60 0.60l-0.60 -0.60zM293.55 354.75l0.60 0.60l-0.60 0.60l-0.60 -0.60zM295.05 308.25l0.60 0.60l-0.60 0.60l-0.60 -0.60zM295.05 311.25l0.60 0.60l-0.60 0.60l-0.60 -0.60zM295.05 314.25l0.60 0.60l-0.60 0.60l-0.60 -0.60zM295.05 317.25l0.60 0.60l-0.60 0.60l-0.60 -0.60zM295.05 320.25l0.60 0.60l-0.60 0.60l-0.60 -0.60zM295.05 323.25l0.60 0.60l-0.60 0.60l-0.60 -0.60zM295.05 326.25l0.60 0.60l-0.60 0.60l-0.60 -0.60zM295.05 329.25l0.60 0.60l-0.60 0.60l-0.60 -0.60zM295.05 332.25l0.60 0.60l-0.60 0.60l-0.60 -0.60zM295.05 335.25l0.60 0.60l-0.60 0.60l-0.60 -0.60zM295.05 338.25l0.60 0.60l-0.60 0.60l-0.60 -0.60zM295.05 341.25l0.60 0.60l-0.60 0.60l-0.60 -0.60zM295.05 344.25l0.60 0.60l-0.60 0.60l-0.60 -0.60zM295.05 347.25l0.60 0.60l-0.60 0.60l-0.60 -0.60zM295.05 350.25l0.60 0.60l-0.60 0.60l-0.60 -0.60zM295.05 353.25l0.60 0.60l-0.60 0.60l-0.60 -0.60zM295.05 356.25l0.60 0.60l-0.60 0.60l-0.60 -0.60zM296.55 306.75l0.60 0.60l-0.60 0.60l-0.60 -0.60zM296.55 309.75l0.60 0.60l-0.60 0.60l-0.60 -0.60zM296.55 312.75l0.60 0.60l-0.60 0.60l-0.60 -0.60zM296.55 315.75l0.60 0.60l-0.60 0.60l-0.60 -0.60zM296.55 318.75l0.60 0.60l-0.60 0.60l-0.60 -0.60zM296.55 321.75l0.60 0.60l-0.60 0.60l-0.60 -0.60zM296.55 324.75l0.60 0.60l-0.60 0.60l-0.60 -0.60zM296.55 327.75l0.60 0.60l-0.60 0.60l-0.60 -0.60zM296.55 330.75l0.60 0.60l-0.60 0.60l-0.60 -0.60zM296.55 333.75l0.60 0.60l-0.60 0.60l-0.60 -0.60zM296.55 336.75l0.60 0.60l-0.60 0.60l-0.60 -0.60zM296.55 339.75l0.60 0.60l-0.60 0.60l-0.60 -0.60zM296.55 342.75l0.60 0.60l-0.60 0.60l-0.60 -0.60zM296.55 345.75l0.60 0.60l-0.60 0.60l-0.60 -0.60zM296.55 348.75l0.60 0.60l-0.60 0.60l-0.60 -0.60zM296.55 351.75l0.60 0.60l-0.60 0.60l-0.60 -0.60zM296.55 354.75l0.60 0.60l-0.60 0.60l-0.60 -0.60zM298.05 308.25l0.60 0.60l-0.60 0.60l-0.60 -0.60zM298.05 311.25l0.60 0.60l-0.60 0.60l-0.60 -0.60zM298.05 314.25l0.60 0.60l-0.60 0.60l-0.60 -0.60zM298.05 317.25l0.60 0.60l-0.60 0.60l-0.60 -0.60zM298.05 320.25l0.60 0.60l-0.60 0.60l-0.60 -0.60zM298.05 323.25l0.60 0.60l-0.60 0.60l-0.60 -0.60zM298.05 326.25l0.60 0.60l-0.60 0.60l-0.60 -0.60zM298.05 329.25l0.60 0.60l-0.60 0.60l-0.60 -0.60zM298.05 332.25l0.60 0.60l-0.60 0.60l-0.60 -0.60zM298.05 335.25l0.60 0.60l-0.60 0.60l-0.60 -0.60zM298.05 338.25l0.60 0.60l-0.60 0.60l-0.60 -0.60zM298.05 341.25l0.60 0.60l-0.60 0.60l-0.60 -0.60zM298.05 344.25l0.60 0.60l-0.60 0.60l-0.60 -0.60zM298.05 347.25l0.60 0.60l-0.60 0.60l-0.60 -0.60zM298.05 350.25l0.60 0.60l-0.60 0.60l-0.60 -0.60zM298.05 353.25l0.60 0.60l-0.60 0.60l-0.60 -0.60zM298.05 356.25l0.60 0.60l-0.60 0.60l-0.60 -0.60zM299.55 306.75l0.60 0.60l-0.60 0.60l-0.60 -0.60zM299.55 309.75l0.60 0.60l-0.60 0.60l-0.60 -0.60zM299.55 312.75l0.60 0.60l-0.60 0.60l-0.60 -0.60zM299.55 315.75l0.60 0.60l-0.60 0.60l-0.60 -0.60zM299.55 318.75l0.60 0.60l-0.60 0.60l-0.60 -0.60zM299.55 321.75l0.60 0.60l-0.60 0.60l-0.60 -0.60zM299.55 324.75l0.60 0.60l-0.60 0.60l-0.60 -0.60zM299.55 327.75l0.60 0.60l-0.60 0.60l-0.60 -0.60zM299.55 330.75l0.60 0.60l-0.60 0.60l-0.60 -0.60zM299.55 333.75l0.60 0.60l-0.60 0.60l-0.60 -0.60zM299.55 336.75l0.60 0.60l-0.60 0.60l-0.60 -0.60zM299.55 339.75l0.60 0.60l-0.60 0.60l-0.60 -0.60zM299.55 342.75l0.60 0.60l-0.60 0.60l-0.60 -0.60zM299.55 345.75l0.60 0.60l-0.60 0.60l-0.60 -0.60zM299.55 348.75l0.60 0.60l-0.60 0.60l-0.60 -0.60zM299.55 351.75l0.60 0.60l-0.60 0.60l-0.60 -0.60zM299.55 354.75l0.60 0.60l-0.60 0.60l-0.60 -0.60zM301.05 308.25l0.60 0.60l-0.60 0.60l-0.60 -0.60zM301.05 311.25l0.60 0.60l-0.60 0.60l-0.60 -0.60zM301.05 314.25l0.60 0.60l-0.60 0.60l-0.60 -0.60zM301.05 317.25l0.60 0.60l-0.60 0.60l-0.60 -0.60zM301.05 320.25l0.60 0.60l-0.60 0.60l-0.60 -0.60zM301.05 323.25l0.60 0.60l-0.60 0.60l-0.60 -0.60zM301.05 326.25l0.60 0.60l-0.60 0.60l-0.60 -0.60zM301.05 329.25l0.60 0.60l-0.60 0.60l-0.60 -0.60zM301.05 332.25l0.60 0.60l-0.60 0.60l-0.60 -0.60zM301.05 335.25l0.60 0.60l-0.60 0.60l-0.60 -0.60zM301.05 338.25l0.60 0.60l-0.60 0.60l-0.60 -0.60zM301.05 341.25l0.60 0.60l-0.60 0.60l-0.60 -0.60zM301.05 344.25l0.60 0.60l-0.60 0.60l-0.60 -0.60zM301.05 347.25l0.60 0.60l-0.60 0.60l-0.60 -0.60zM301.05 350.25l0.60 0.60l-0.60 0.60l-0.60 -0.60zM301.05 353.25l0.60 0.60l-0.60 0.60l-0.60 -0.60zM301.05 356.25l0.60 0.60l-0.60 0.60l-0.60 -0.60zM302.55 306.75l0.60 0.60l-0.60 0.60l-0.60 -0.60zM302.55 309.75l0.60 0.60l-0.60 0.60l-0.60 -0.60zM302.55 312.75l0.60 0.60l-0.60 0.60l-0.60 -0.60zM302.55 315.75l0.60 0.60l-0.60 0.60l-0.60 -0.60zM302.55 318.75l0.60 0.60l-0.60 0.60l-0.60 -0.60zM302.55 321.75l0.60 0.60l-0.60 0.60l-0.60 -0.60zM302.55 324.75l0.60 0.60l-0.60 0.60l-0.60 -0.60zM302.55 327.75l0.60 0.60l-0.60 0.60l-0.60 -0.60zM302.55 330.75l0.60 0.60l-0.60 0.60l-0.60 -0.60zM302.55 333.75l0.60 0.60l-0.60 0.60l-0.60 -0.60zM302.55 336.75l0.60 0.60l-0.60 0.60l-0.60 -0.60zM302.55 339.75l0.60 0.60l-0.60 0.60l-0.60 -0.60zM302.55 342.75l0.60 0.60l-0.60 0.60l-0.60 -0.60zM302.55 345.75l0.60 0.60l-0.60 0.60l-0.60 -0.60zM302.55 348.75l0.60 0.60l-0.60 0.60l-0.60 -0.60zM302.55 351.75l0.60 0.60l-0.60 0.60l-0.60 -0.60zM302.55 354.75l0.60 0.60l-0.60 0.60l-0.60 -0.60zM304.05 308.25l0.60 0.60l-0.60 0.60l-0.60 -0.60zM304.05 311.25l0.60 0.60l-0.60 0.60l-0.60 -0.60zM304.05 314.25l0.60 0.60l-0.60 0.60l-0.60 -0.60zM304.05 317.25l0.60 0.60l-0.60 0.60l-0.60 -0.60zM304.05 320.25l0.60 0.60l-0.60 0.60l-0.60 -0.60zM304.05 323.25l0.60 0.60l-0.60 0.60l-0.60 -0.60zM304.05 326.25l0.60 0.60l-0.60 0.60l-0.60 -0.60zM304.05 329.25l0.60 0.60l-0.60 0.60l-0.60 -0.60zM304.05 332.25l0.60 0.60l-0.60 0.60l-0.60 -0.60zM304.05 335.25l0.60 0.60l-0.60 0.60l-0.60 -0.60zM304.05 338.25l0.60 0.60l-0.60 0.60l-0.60 -0.60zM304.05 341.25l0.60 0.60l-0.60 0.60l-0.60 -0.60zM304.05 344.25l0.60 0.60l-0.60 0.60l-0.60 -0.60zM304.05 347.25l0.60 0.60l-0.60 0.60l-0.60 -0.60zM304.05 350.25l0.60 0.60l-0.60 0.60l-0.60 -0.60zM304.05 353.25l0.60 0.60l-0.60 0.60l-0.60 -0.60zM304.05 356.25l0.60 0.60l-0.60 0.60l-0.60 -0.60zM305.55 306.75l0.60 0.60l-0.60 0.60l-0.60 -0.60zM305.55 309.75l0.60 0.60l-0.60 0.60l-0.60 -0.60zM305.55 312.75l0.60 0.60l-0.60 0.60l-0.60 -0.60zM305.55 315.75l0.60 0.60l-0.60 0.60l-0.60 -0.60zM305.55 318.75l0.60 0.60l-0.60 0.60l-0.60 -0.60zM305.55 321.75l0.60 0.60l-0.60 0.60l-0.60 -0.60zM305.55 324.75l0.60 0.60l-0.60 0.60l-0.60 -0.60zM305.55 327.75l0.60 0.60l-0.60 0.60l-0.60 -0.60zM305.55 330.75l0.60 0.60l-0.60 0.60l-0.60 -0.60zM305.55 333.75l0.60 0.60l-0.60 0.60l-0.60 -0.60zM305.55 336.75l0.60 0.60l-0.60 0.60l-0.60 -0.60zM305.55 339.75l0.60 0.60l-0.60 0.60l-0.60 -0.60zM305.55 342.75l0.60 0.60l-0.60 0.60l-0.60 -0.60zM305.55 345.75l0.60 0.60l-0.60 0.60l-0.60 -0.60zM305.55 348.75l0.60 0.60l-0.60 0.60l-0.60 -0.60zM305.55 351.75l0.60 0.60l-0.60 0.60l-0.60 -0.60zM305.55 354.75l0.60 0.60l-0.60 0.60l-0.60 -0.60zM307.05 308.25l0.60 0.60l-0.60 0.60l-0.60 -0.60zM307.05 311.25l0.60 0.60l-0.60 0.60l-0.60 -0.60zM307.05 314.25l0.60 0.60l-0.60 0.60l-0.60 -0.60zM307.05 317.25l0.60 0.60l-0.60 0.60l-0.60 -0.60zM307.05 320.25l0.60 0.60l-0.60 0.60l-0.60 -0.60zM307.05 323.25l0.60 0.60l-0.60 0.60l-0.60 -0.60zM307.05 326.25l0.60 0.60l-0.60 0.60l-0.60 -0.60zM307.05 329.25l0.60 0.60l-0.60 0.60l-0.60 -0.60zM307.05 332.25l0.60 0.60l-0.60 0.60l-0.60 -0.60zM307.05 335.25l0.60 0.60l-0.60 0.60l-0.60 -0.60zM307.05 338.25l0.60 0.60l-0.60 0.60l-0.60 -0.60zM307.05 341.25l0.60 0.60l-0.60 0.60l-0.60 -0.60zM307.05 344.25l0.60 0.60l-0.60 0.60l-0.60 -0.60zM307.05 347.25l0.60 0.60l-0.60 0.60l-0.60 -0.60zM307.05 350.25l0.60 0.60l-0.60 0.60l-0.60 -0.60zM307.05 353.25l0.60 0.60l-0.60 0.60l-0.60 -0.60zM307.05 356.25l0.60 0.60l-0.60 0.60l-0.60 -0.60zM308.55 306.75l0.60 0.60l-0.60 0.60l-0.60 -0.60zM308.55 309.75l0.60 0.60l-0.60 0.60l-0.60 -0.60zM308.55 312.75l0.60 0.60l-0.60 0.60l-0.60 -0.60zM308.55 315.75l0.60 0.60l-0.60 0.60l-0.60 -0.60zM308.55 318.75l0.60 0.60l-0.60 0.60l-0.60 -0.60zM308.55 321.75l0.60 0.60l-0.60 0.60l-0.60 -0.60zM308.55 324.75l0.60 0.60l-0.60 0.60l-0.60 -0.60zM308.55 327.75l0.60 0.60l-0.60 0.60l-0.60 -0.60zM308.55 330.75l0.60 0.60l-0.60 0.60l-0.60 -0.60zM308.55 333.75l0.60 0.60l-0.60 0.60l-0.60 -0.60zM308.55 336.75l0.60 0.60l-0.60 0.60l-0.60 -0.60zM308.55 339.75l0.60 0.60l-0.60 0.60l-0.60 -0.60zM308.55 342.75l0.60 0.60l-0.60 0.60l-0.60 -0.60zM308.55 345.75l0.60 0.60l-0.60 0.60l-0.60 -0.60zM308.55 348.75l0.60 0.60l-0.60 0.60l-0.60 -0.60zM308.55 351.75l0.60 0.60l-0.60 0.60l-0.60 -0.60zM308.55 354.75l0.60 0.60l-0.60 0.60l-0.60 -0.60zM310.05 308.25l0.60 0.60l-0.60 0.60l-0.60 -0.60zM310.05 311.25l0.60 0.60l-0.60 0.60l-0.60 -0.60zM310.05 314.25l0.60 0.60l-0.60 0.60l-0.60 -0.60zM310.05 317.25l0.60 0.60l-0.60 0.60l-0.60 -0.60zM310.05 320.25l0.60 0.60l-0.60 0.60l-0.60 -0.60zM310.05 323.25l0.60 0.60l-0.60 0.60l-0.60 -0.60zM310.05 326.25l0.60 0.60l-0.60 0.60l-0.60 -0.60zM310.05 329.25l0.60 0.60l-0.60 0.60l-0.60 -0.60zM310.05 332.25l0.60 0.60l-0.60 0.60l-0.60 -0.60zM310.05 335.25l0.60 0.60l-0.60 0.60l-0.60 -0.60zM310.05 338.25l0.60 0.60l-0.60 0.60l-0.60 -0.60zM310.05 341.25l0.60 0.60l-0.60 0.60l-0.60 -0.60zM310.05 344.25l0.60 0.60l-0.60 0.60l-0.60 -0.60zM310.05 347.25l0.60 0.60l-0.60 0.60l-0.60 -0.60zM310.05 350.25l0.60 0.60l-0.60 0.60l-0.60 -0.60zM310.05 353.25l0.60 0.60l-0.60 0.60l-0.60 -0.60zM310.05 356.25l0.60 0.60l-0.60 0.60l-0.60 -0.60zM311.55 306.75l0.60 0.60l-0.60 0.60l-0.60 -0.60zM311.55 309.75l0.60 0.60l-0.60 0.60l-0.60 -0.60zM311.55 312.75l0.60 0.60l-0.60 0.60l-0.60 -0.60zM311.55 315.75l0.60 0.60l-0.60 0.60l-0.60 -0.60zM311.55 318.75l0.60 0.60l-0.60 0.60l-0.60 -0.60zM311.55 321.75l0.60 0.60l-0.60 0.60l-0.60 -0.60zM311.55 324.75l0.60 0.60l-0.60 0.60l-0.60 -0.60zM311.55 327.75l0.60 0.60l-0.60 0.60l-0.60 -0.60zM311.55 330.75l0.60 0.60l-0.60 0.60l-0.60 -0.60zM311.55 333.75l0.60 0.60l-0.60 0.60l-0.60 -0.60zM311.55 336.75l0.60 0.60l-0.60 0.60l-0.60 -0.60zM311.55 339.75l0.60 0.60l-0.60 0.60l-0.60 -0.60zM311.55 342.75l0.60 0.60l-0.60 0.60l-0.60 -0.60zM311.55 345.75l0.60 0.60l-0.60 0.60l-0.60 -0.60zM311.55 348.75l0.60 0.60l-0.60 0.60l-0.60 -0.60zM311.55 351.75l0.60 0.60l-0.60 0.60l-0.60 -0.60zM311.55 354.75l0.60 0.60l-0.60 0.60l-0.60 -0.60zM313.05 308.25l0.60 0.60l-0.60 0.60l-0.60 -0.60zM313.05 311.25l0.60 0.60l-0.60 0.60l-0.60 -0.60zM313.05 314.25l0.60 0.60l-0.60 0.60l-0.60 -0.60zM313.05 317.25l0.60 0.60l-0.60 0.60l-0.60 -0.60zM313.05 320.25l0.60 0.60l-0.60 0.60l-0.60 -0.60zM313.05 323.25l0.60 0.60l-0.60 0.60l-0.60 -0.60zM313.05 326.25l0.60 0.60l-0.60 0.60l-0.60 -0.60zM313.05 329.25l0.60 0.60l-0.60 0.60l-0.60 -0.60zM313.05 332.25l0.60 0.60l-0.60 0.60l-0.60 -0.60zM313.05 335.25l0.60 0.60l-0.60 0.60l-0.60 -0.60zM313.05 338.25l0.60 0.60l-0.60 0.60l-0.60 -0.60zM313.05 341.25l0.60 0.60l-0.60 0.60l-0.60 -0.60zM313.05 344.25l0.60 0.60l-0.60 0.60l-0.60 -0.60zM313.05 347.25l0.60 0.60l-0.60 0.60l-0.60 -0.60zM313.05 350.25l0.60 0.60l-0.60 0.60l-0.60 -0.60zM313.05 353.25l0.60 0.60l-0.60 0.60l-0.60 -0.60zM313.05 356.25l0.60 0.60l-0.60 0.60l-0.60 -0.60zM314.55 306.75l0.60 0.60l-0.60 0.60l-0.60 -0.60zM314.55 309.75l0.60 0.60l-0.60 0.60l-0.60 -0.60zM314.55 312.75l0.60 0.60l-0.60 0.60l-0.60 -0.60zM314.55 315.75l0.60 0.60l-0.60 0.60l-0.60 -0.60zM314.55 318.75l0.60 0.60l-0.60 0.60l-0.60 -0.60zM314.55 321.75l0.60 0.60l-0.60 0.60l-0.60 -0.60zM314.55 324.75l0.60 0.60l-0.60 0.60l-0.60 -0.60zM314.55 327.75l0.60 0.60l-0.60 0.60l-0.60 -0.60zM314.55 330.75l0.60 0.60l-0.60 0.60l-0.60 -0.60zM314.55 333.75l0.60 0.60l-0.60 0.60l-0.60 -0.60zM314.55 336.75l0.60 0.60l-0.60 0.60l-0.60 -0.60zM314.55 339.75l0.60 0.60l-0.60 0.60l-0.60 -0.60zM314.55 342.75l0.60 0.60l-0.60 0.60l-0.60 -0.60zM314.55 345.75l0.60 0.60l-0.60 0.60l-0.60 -0.60zM314.55 348.75l0.60 0.60l-0.60 0.60l-0.60 -0.60zM314.55 351.75l0.60 0.60l-0.60 0.60l-0.60 -0.60zM314.55 354.75l0.60 0.60l-0.60 0.60l-0.60 -0.60zM316.05 308.25l0.60 0.60l-0.60 0.60l-0.60 -0.60zM316.05 311.25l0.60 0.60l-0.60 0.60l-0.60 -0.60zM316.05 314.25l0.60 0.60l-0.60 0.60l-0.60 -0.60zM316.05 317.25l0.60 0.60l-0.60 0.60l-0.60 -0.60zM316.05 320.25l0.60 0.60l-0.60 0.60l-0.60 -0.60zM316.05 323.25l0.60 0.60l-0.60 0.60l-0.60 -0.60zM316.05 326.25l0.60 0.60l-0.60 0.60l-0.60 -0.60zM316.05 329.25l0.60 0.60l-0.60 0.60l-0.60 -0.60zM316.05 332.25l0.60 0.60l-0.60 0.60l-0.60 -0.60zM316.05 335.25l0.60 0.60l-0.60 0.60l-0.60 -0.60zM316.05 338.25l0.60 0.60l-0.60 0.60l-0.60 -0.60zM316.05 341.25l0.60 0.60l-0.60 0.60l-0.60 -0.60zM316.05 344.25l0.60 0.60l-0.60 0.60l-0.60 -0.60zM316.05 347.25l0.60 0.60l-0.60 0.60l-0.60 -0.60zM316.05 350.25l0.60 0.60l-0.60 0.60l-0.60 -0.60zM316.05 353.25l0.60 0.60l-0.60 0.60l-0.60 -0.60zM316.05 356.25l0.60 0.60l-0.60 0.60l-0.60 -0.60zM317.55 306.75l0.60 0.60l-0.60 0.60l-0.60 -0.60zM317.55 309.75l0.60 0.60l-0.60 0.60l-0.60 -0.60zM317.55 312.75l0.60 0.60l-0.60 0.60l-0.60 -0.60zM317.55 315.75l0.60 0.60l-0.60 0.60l-0.60 -0.60zM317.55 318.75l0.60 0.60l-0.60 0.60l-0.60 -0.60zM317.55 321.75l0.60 0.60l-0.60 0.60l-0.60 -0.60zM317.55 324.75l0.60 0.60l-0.60 0.60l-0.60 -0.60zM317.55 327.75l0.60 0.60l-0.60 0.60l-0.60 -0.60zM317.55 330.75l0.60 0.60l-0.60 0.60l-0.60 -0.60zM317.55 333.75l0.60 0.60l-0.60 0.60l-0.60 -0.60zM317.55 336.75l0.60 0.60l-0.60 0.60l-0.60 -0.60zM317.55 339.75l0.60 0.60l-0.60 0.60l-0.60 -0.60zM317.55 342.75l0.60 0.60l-0.60 0.60l-0.60 -0.60zM317.55 345.75l0.60 0.60l-0.60 0.60l-0.60 -0.60zM317.55 348.75l0.60 0.60l-0.60 0.60l-0.60 -0.60zM317.55 351.75l0.60 0.60l-0.60 0.60l-0.60 -0.60zM317.55 354.75l0.60 0.60l-0.60 0.60l-0.60 -0.60zM319.05 308.25l0.60 0.60l-0.60 0.60l-0.60 -0.60zM319.05 311.25l0.60 0.60l-0.60 0.60l-0.60 -0.60zM319.05 314.25l0.60 0.60l-0.60 0.60l-0.60 -0.60zM319.05 317.25l0.60 0.60l-0.60 0.60l-0.60 -0.60zM319.05 320.25l0.60 0.60l-0.60 0.60l-0.60 -0.60zM319.05 323.25l0.60 0.60l-0.60 0.60l-0.60 -0.60zM319.05 326.25l0.60 0.60l-0.60 0.60l-0.60 -0.60zM319.05 329.25l0.60 0.60l-0.60 0.60l-0.60 -0.60zM319.05 332.25l0.60 0.60l-0.60 0.60l-0.60 -0.60zM319.05 335.25l0.60 0.60l-0.60 0.60l-0.60 -0.60zM319.05 338.25l0.60 0.60l-0.60 0.60l-0.60 -0.60zM319.05 341.25l0.60 0.60l-0.60 0.60l-0.60 -0.60zM319.05 344.25l0.60 0.60l-0.60 0.60l-0.60 -0.60zM319.05 347.25l0.60 0.60l-0.60 0.60l-0.60 -0.60zM319.05 350.25l0.60 0.60l-0.60 0.60l-0.60 -0.60zM319.05 353.25l0.60 0.60l-0.60 0.60l-0.60 -0.60zM319.05 356.25l0.60 0.60l-0.60 0.60l-0.60 -0.60zM320.55 306.75l0.60 0.60l-0.60 0.60l-0.60 -0.60zM320.55 309.75l0.60 0.60l-0.60 0.60l-0.60 -0.60zM320.55 312.75l0.60 0.60l-0.60 0.60l-0.60 -0.60zM320.55 315.75l0.60 0.60l-0.60 0.60l-0.60 -0.60zM320.55 318.75l0.60 0.60l-0.60 0.60l-0.60 -0.60zM320.55 321.75l0.60 0.60l-0.60 0.60l-0.60 -0.60zM320.55 324.75l0.60 0.60l-0.60 0.60l-0.60 -0.60zM320.55 327.75l0.60 0.60l-0.60 0.60l-0.60 -0.60zM320.55 330.75l0.60 0.60l-0.60 0.60l-0.60 -0.60zM320.55 333.75l0.60 0.60l-0.60 0.60l-0.60 -0.60zM320.55 336.75l0.60 0.60l-0.60 0.60l-0.60 -0.60zM320.55 339.75l0.60 0.60l-0.60 0.60l-0.60 -0.60zM320.55 342.75l0.60 0.60l-0.60 0.60l-0.60 -0.60zM320.55 345.75l0.60 0.60l-0.60 0.60l-0.60 -0.60zM320.55 348.75l0.60 0.60l-0.60 0.60l-0.60 -0.60zM320.55 351.75l0.60 0.60l-0.60 0.60l-0.60 -0.60zM320.55 354.75l0.60 0.60l-0.60 0.60l-0.60 -0.60zM322.05 308.25l0.60 0.60l-0.60 0.60l-0.60 -0.60zM322.05 311.25l0.60 0.60l-0.60 0.60l-0.60 -0.60zM322.05 314.25l0.60 0.60l-0.60 0.60l-0.60 -0.60zM322.05 317.25l0.60 0.60l-0.60 0.60l-0.60 -0.60zM322.05 320.25l0.60 0.60l-0.60 0.60l-0.60 -0.60zM322.05 323.25l0.60 0.60l-0.60 0.60l-0.60 -0.60zM322.05 326.25l0.60 0.60l-0.60 0.60l-0.60 -0.60zM322.05 329.25l0.60 0.60l-0.60 0.60l-0.60 -0.60zM322.05 332.25l0.60 0.60l-0.60 0.60l-0.60 -0.60zM322.05 335.25l0.60 0.60l-0.60 0.60l-0.60 -0.60zM322.05 338.25l0.60 0.60l-0.60 0.60l-0.60 -0.60zM322.05 341.25l0.60 0.60l-0.60 0.60l-0.60 -0.60zM322.05 344.25l0.60 0.60l-0.60 0.60l-0.60 -0.60zM322.05 347.25l0.60 0.60l-0.60 0.60l-0.60 -0.60zM322.05 350.25l0.60 0.60l-0.60 0.60l-0.60 -0.60zM322.05 353.25l0.60 0.60l-0.60 0.60l-0.60 -0.60zM322.05 356.25l0.60 0.60l-0.60 0.60l-0.60 -0.60zM323.55 306.75l0.60 0.60l-0.60 0.60l-0.60 -0.60zM323.55 309.75l0.60 0.60l-0.60 0.60l-0.60 -0.60zM323.55 312.75l0.60 0.60l-0.60 0.60l-0.60 -0.60zM323.55 315.75l0.60 0.60l-0.60 0.60l-0.60 -0.60zM323.55 318.75l0.60 0.60l-0.60 0.60l-0.60 -0.60zM323.55 321.75l0.60 0.60l-0.60 0.60l-0.60 -0.60zM323.55 324.75l0.60 0.60l-0.60 0.60l-0.60 -0.60zM323.55 327.75l0.60 0.60l-0.60 0.60l-0.60 -0.60zM323.55 330.75l0.60 0.60l-0.60 0.60l-0.60 -0.60zM323.55 333.75l0.60 0.60l-0.60 0.60l-0.60 -0.60zM323.55 336.75l0.60 0.60l-0.60 0.60l-0.60 -0.60zM323.55 339.75l0.60 0.60l-0.60 0.60l-0.60 -0.60zM323.55 342.75l0.60 0.60l-0.60 0.60l-0.60 -0.60zM323.55 345.75l0.60 0.60l-0.60 0.60l-0.60 -0.60zM323.55 348.75l0.60 0.60l-0.60 0.60l-0.60 -0.60zM323.55 351.75l0.60 0.60l-0.60 0.60l-0.60 -0.60zM323.55 354.75l0.60 0.60l-0.60 0.60l-0.60 -0.60zM325.05 308.25l0.60 0.60l-0.60 0.60l-0.60 -0.60zM325.05 311.25l0.60 0.60l-0.60 0.60l-0.60 -0.60zM325.05 314.25l0.60 0.60l-0.60 0.60l-0.60 -0.60zM325.05 317.25l0.60 0.60l-0.60 0.60l-0.60 -0.60zM325.05 320.25l0.60 0.60l-0.60 0.60l-0.60 -0.60zM325.05 323.25l0.60 0.60l-0.60 0.60l-0.60 -0.60zM325.05 326.25l0.60 0.60l-0.60 0.60l-0.60 -0.60zM325.05 329.25l0.60 0.60l-0.60 0.60l-0.60 -0.60zM325.05 332.25l0.60 0.60l-0.60 0.60l-0.60 -0.60zM325.05 335.25l0.60 0.60l-0.60 0.60l-0.60 -0.60zM325.05 338.25l0.60 0.60l-0.60 0.60l-0.60 -0.60zM325.05 341.25l0.60 0.60l-0.60 0.60l-0.60 -0.60zM325.05 344.25l0.60 0.60l-0.60 0.60l-0.60 -0.60zM325.05 347.25l0.60 0.60l-0.60 0.60l-0.60 -0.60zM325.05 350.25l0.60 0.60l-0.60 0.60l-0.60 -0.60zM325.05 353.25l0.60 0.60l-0.60 0.60l-0.60 -0.60zM325.05 356.25l0.60 0.60l-0.60 0.60l-0.60 -0.60z" fill="#525252"/>
<rect x="295.14" y="309.62" width="27.27" height="44.53" fill="none" stroke="#222" stroke-width="1"/>
<line x1="281.00" y1="354.15" x2="281.00" y2="357.75" stroke="#444" stroke-width="0.7"/>
<text x="281.50" y="368.9" font-size="9.2" text-anchor="middle">TNF-alpha</text>
<path d="M349.00 250.22V201.62" stroke="#1c1c1c" stroke-width="1" fill="none"/><path d="M346.10 201.62H352.00" stroke="#111" stroke-width="1.25" fill="none"/>
<rect x="334.90" y="251.92" width="27.87" height="102.23" fill="#000"/>
<path clip-path="url(#c9)" d="M352.30 329.20l2.45 2.45l-2.45 2.45l-2.45 -2.45zM352.30 335.00l2.45 2.45l-2.45 2.45l-2.45 -2.45zM352.30 340.80l2.45 2.45l-2.45 2.45l-2.45 -2.45zM352.30 346.60l2.45 2.45l-2.45 2.45l-2.45 -2.45zM352.30 352.40l2.45 2.45l-2.45 2.45l-2.45 -2.45zM352.30 358.20l2.45 2.45l-2.45 2.45l-2.45 -2.45zM358.28 329.20l2.45 2.45l-2.45 2.45l-2.45 -2.45zM358.28 335.00l2.45 2.45l-2.45 2.45l-2.45 -2.45zM358.28 340.80l2.45 2.45l-2.45 2.45l-2.45 -2.45zM358.28 346.60l2.45 2.45l-2.45 2.45l-2.45 -2.45zM358.28 352.40l2.45 2.45l-2.45 2.45l-2.45 -2.45zM358.28 358.20l2.45 2.45l-2.45 2.45l-2.45 -2.45zM364.26 329.20l2.45 2.45l-2.45 2.45l-2.45 -2.45zM364.26 335.00l2.45 2.45l-2.45 2.45l-2.45 -2.45zM364.26 340.80l2.45 2.45l-2.45 2.45l-2.45 -2.45zM364.26 346.60l2.45 2.45l-2.45 2.45l-2.45 -2.45zM364.26 352.40l2.45 2.45l-2.45 2.45l-2.45 -2.45zM364.26 358.20l2.45 2.45l-2.45 2.45l-2.45 -2.45zM370.24 329.20l2.45 2.45l-2.45 2.45l-2.45 -2.45zM370.24 335.00l2.45 2.45l-2.45 2.45l-2.45 -2.45zM370.24 340.80l2.45 2.45l-2.45 2.45l-2.45 -2.45zM370.24 346.60l2.45 2.45l-2.45 2.45l-2.45 -2.45zM370.24 352.40l2.45 2.45l-2.45 2.45l-2.45 -2.45zM370.24 358.20l2.45 2.45l-2.45 2.45l-2.45 -2.45zM376.22 329.20l2.45 2.45l-2.45 2.45l-2.45 -2.45zM376.22 335.00l2.45 2.45l-2.45 2.45l-2.45 -2.45zM376.22 340.80l2.45 2.45l-2.45 2.45l-2.45 -2.45zM376.22 346.60l2.45 2.45l-2.45 2.45l-2.45 -2.45zM376.22 352.40l2.45 2.45l-2.45 2.45l-2.45 -2.45zM376.22 358.20l2.45 2.45l-2.45 2.45l-2.45 -2.45zM382.20 329.20l2.45 2.45l-2.45 2.45l-2.45 -2.45zM382.20 335.00l2.45 2.45l-2.45 2.45l-2.45 -2.45zM382.20 340.80l2.45 2.45l-2.45 2.45l-2.45 -2.45zM382.20 346.60l2.45 2.45l-2.45 2.45l-2.45 -2.45zM382.20 352.40l2.45 2.45l-2.45 2.45l-2.45 -2.45zM382.20 358.20l2.45 2.45l-2.45 2.45l-2.45 -2.45zM388.18 329.20l2.45 2.45l-2.45 2.45l-2.45 -2.45zM388.18 335.00l2.45 2.45l-2.45 2.45l-2.45 -2.45zM388.18 340.80l2.45 2.45l-2.45 2.45l-2.45 -2.45zM388.18 346.60l2.45 2.45l-2.45 2.45l-2.45 -2.45zM388.18 352.40l2.45 2.45l-2.45 2.45l-2.45 -2.45zM388.18 358.20l2.45 2.45l-2.45 2.45l-2.45 -2.45zM394.16 329.20l2.45 2.45l-2.45 2.45l-2.45 -2.45zM394.16 335.00l2.45 2.45l-2.45 2.45l-2.45 -2.45zM394.16 340.80l2.45 2.45l-2.45 2.45l-2.45 -2.45zM394.16 346.60l2.45 2.45l-2.45 2.45l-2.45 -2.45zM394.16 352.40l2.45 2.45l-2.45 2.45l-2.45 -2.45zM394.16 358.20l2.45 2.45l-2.45 2.45l-2.45 -2.45zM400.14 329.20l2.45 2.45l-2.45 2.45l-2.45 -2.45zM400.14 335.00l2.45 2.45l-2.45 2.45l-2.45 -2.45zM400.14 340.80l2.45 2.45l-2.45 2.45l-2.45 -2.45zM400.14 346.60l2.45 2.45l-2.45 2.45l-2.45 -2.45zM400.14 352.40l2.45 2.45l-2.45 2.45l-2.45 -2.45zM400.14 358.20l2.45 2.45l-2.45 2.45l-2.45 -2.45z" fill="#000"/>
<rect x="362.27" y="337.77" width="27.27" height="16.38" fill="none" stroke="#111" stroke-width="1"/>
<path clip-path="url(#c10)" d="M358.52 327.32L386.35 355.15M361.52 327.32L389.35 355.15M364.52 327.32L392.35 355.15M367.52 327.32L395.35 355.15M370.52 327.32L398.35 355.15M373.52 327.32L401.35 355.15M376.52 327.32L404.35 355.15M379.52 327.32L407.35 355.15M382.52 327.32L410.35 355.15M385.52 327.32L413.35 355.15M388.52 327.32L416.35 355.15M391.52 327.32L419.35 355.15M394.52 327.32L422.35 355.15M397.52 327.32L425.35 355.15M400.52 327.32L428.35 355.15M403.52 327.32L431.35 355.15M406.52 327.32L434.35 355.15M409.52 327.32L437.35 355.15M412.52 327.32L440.35 355.15M415.52 327.32L443.35 355.15M418.52 327.32L446.35 355.15M421.52 327.32L449.35 355.15M384.58 327.32L356.75 355.15M387.58 327.32L359.75 355.15M390.58 327.32L362.75 355.15M393.58 327.32L365.75 355.15M396.58 327.32L368.75 355.15M399.58 327.32L371.75 355.15M402.58 327.32L374.75 355.15M405.58 327.32L377.75 355.15M408.58 327.32L380.75 355.15M411.58 327.32L383.75 355.15M414.58 327.32L386.75 355.15M417.58 327.32L389.75 355.15M420.58 327.32L392.75 355.15M423.58 327.32L395.75 355.15M426.58 327.32L398.75 355.15M429.58 327.32L401.75 355.15M432.58 327.32L404.75 355.15M435.58 327.32L407.75 355.15M438.58 327.32L410.75 355.15M441.58 327.32L413.75 355.15M444.58 327.32L416.75 355.15M447.58 327.32L419.75 355.15" stroke="#cacaca" stroke-width="0.42" fill="none"/><path clip-path="url(#c10)" d="M386.55 324.75l0.60 0.60l-0.60 0.60l-0.60 -0.60zM386.55 327.75l0.60 0.60l-0.60 0.60l-0.60 -0.60zM386.55 330.75l0.60 0.60l-0.60 0.60l-0.60 -0.60zM386.55 333.75l0.60 0.60l-0.60 0.60l-0.60 -0.60zM386.55 336.75l0.60 0.60l-0.60 0.60l-0.60 -0.60zM386.55 339.75l0.60 0.60l-0.60 0.60l-0.60 -0.60zM386.55 342.75l0.60 0.60l-0.60 0.60l-0.60 -0.60zM386.55 345.75l0.60 0.60l-0.60 0.60l-0.60 -0.60zM386.55 348.75l0.60 0.60l-0.60 0.60l-0.60 -0.60zM386.55 351.75l0.60 0.60l-0.60 0.60l-0.60 -0.60zM386.55 354.75l0.60 0.60l-0.60 0.60l-0.60 -0.60zM388.05 326.25l0.60 0.60l-0.60 0.60l-0.60 -0.60zM388.05 329.25l0.60 0.60l-0.60 0.60l-0.60 -0.60zM388.05 332.25l0.60 0.60l-0.60 0.60l-0.60 -0.60zM388.05 335.25l0.60 0.60l-0.60 0.60l-0.60 -0.60zM388.05 338.25l0.60 0.60l-0.60 0.60l-0.60 -0.60zM388.05 341.25l0.60 0.60l-0.60 0.60l-0.60 -0.60zM388.05 344.25l0.60 0.60l-0.60 0.60l-0.60 -0.60zM388.05 347.25l0.60 0.60l-0.60 0.60l-0.60 -0.60zM388.05 350.25l0.60 0.60l-0.60 0.60l-0.60 -0.60zM388.05 353.25l0.60 0.60l-0.60 0.60l-0.60 -0.60zM388.05 356.25l0.60 0.60l-0.60 0.60l-0.60 -0.60zM389.55 324.75l0.60 0.60l-0.60 0.60l-0.60 -0.60zM389.55 327.75l0.60 0.60l-0.60 0.60l-0.60 -0.60zM389.55 330.75l0.60 0.60l-0.60 0.60l-0.60 -0.60zM389.55 333.75l0.60 0.60l-0.60 0.60l-0.60 -0.60zM389.55 336.75l0.60 0.60l-0.60 0.60l-0.60 -0.60zM389.55 339.75l0.60 0.60l-0.60 0.60l-0.60 -0.60zM389.55 342.75l0.60 0.60l-0.60 0.60l-0.60 -0.60zM389.55 345.75l0.60 0.60l-0.60 0.60l-0.60 -0.60zM389.55 348.75l0.60 0.60l-0.60 0.60l-0.60 -0.60zM389.55 351.75l0.60 0.60l-0.60 0.60l-0.60 -0.60zM389.55 354.75l0.60 0.60l-0.60 0.60l-0.60 -0.60zM391.05 326.25l0.60 0.60l-0.60 0.60l-0.60 -0.60zM391.05 329.25l0.60 0.60l-0.60 0.60l-0.60 -0.60zM391.05 332.25l0.60 0.60l-0.60 0.60l-0.60 -0.60zM391.05 335.25l0.60 0.60l-0.60 0.60l-0.60 -0.60zM391.05 338.25l0.60 0.60l-0.60 0.60l-0.60 -0.60zM391.05 341.25l0.60 0.60l-0.60 0.60l-0.60 -0.60zM391.05 344.25l0.60 0.60l-0.60 0.60l-0.60 -0.60zM391.05 347.25l0.60 0.60l-0.60 0.60l-0.60 -0.60zM391.05 350.25l0.60 0.60l-0.60 0.60l-0.60 -0.60zM391.05 353.25l0.60 0.60l-0.60 0.60l-0.60 -0.60zM391.05 356.25l0.60 0.60l-0.60 0.60l-0.60 -0.60zM392.55 324.75l0.60 0.60l-0.60 0.60l-0.60 -0.60zM392.55 327.75l0.60 0.60l-0.60 0.60l-0.60 -0.60zM392.55 330.75l0.60 0.60l-0.60 0.60l-0.60 -0.60zM392.55 333.75l0.60 0.60l-0.60 0.60l-0.60 -0.60zM392.55 336.75l0.60 0.60l-0.60 0.60l-0.60 -0.60zM392.55 339.75l0.60 0.60l-0.60 0.60l-0.60 -0.60zM392.55 342.75l0.60 0.60l-0.60 0.60l-0.60 -0.60zM392.55 345.75l0.60 0.60l-0.60 0.60l-0.60 -0.60zM392.55 348.75l0.60 0.60l-0.60 0.60l-0.60 -0.60zM392.55 351.75l0.60 0.60l-0.60 0.60l-0.60 -0.60zM392.55 354.75l0.60 0.60l-0.60 0.60l-0.60 -0.60zM394.05 326.25l0.60 0.60l-0.60 0.60l-0.60 -0.60zM394.05 329.25l0.60 0.60l-0.60 0.60l-0.60 -0.60zM394.05 332.25l0.60 0.60l-0.60 0.60l-0.60 -0.60zM394.05 335.25l0.60 0.60l-0.60 0.60l-0.60 -0.60zM394.05 338.25l0.60 0.60l-0.60 0.60l-0.60 -0.60zM394.05 341.25l0.60 0.60l-0.60 0.60l-0.60 -0.60zM394.05 344.25l0.60 0.60l-0.60 0.60l-0.60 -0.60zM394.05 347.25l0.60 0.60l-0.60 0.60l-0.60 -0.60zM394.05 350.25l0.60 0.60l-0.60 0.60l-0.60 -0.60zM394.05 353.25l0.60 0.60l-0.60 0.60l-0.60 -0.60zM394.05 356.25l0.60 0.60l-0.60 0.60l-0.60 -0.60zM395.55 324.75l0.60 0.60l-0.60 0.60l-0.60 -0.60zM395.55 327.75l0.60 0.60l-0.60 0.60l-0.60 -0.60zM395.55 330.75l0.60 0.60l-0.60 0.60l-0.60 -0.60zM395.55 333.75l0.60 0.60l-0.60 0.60l-0.60 -0.60zM395.55 336.75l0.60 0.60l-0.60 0.60l-0.60 -0.60zM395.55 339.75l0.60 0.60l-0.60 0.60l-0.60 -0.60zM395.55 342.75l0.60 0.60l-0.60 0.60l-0.60 -0.60zM395.55 345.75l0.60 0.60l-0.60 0.60l-0.60 -0.60zM395.55 348.75l0.60 0.60l-0.60 0.60l-0.60 -0.60zM395.55 351.75l0.60 0.60l-0.60 0.60l-0.60 -0.60zM395.55 354.75l0.60 0.60l-0.60 0.60l-0.60 -0.60zM397.05 326.25l0.60 0.60l-0.60 0.60l-0.60 -0.60zM397.05 329.25l0.60 0.60l-0.60 0.60l-0.60 -0.60zM397.05 332.25l0.60 0.60l-0.60 0.60l-0.60 -0.60zM397.05 335.25l0.60 0.60l-0.60 0.60l-0.60 -0.60zM397.05 338.25l0.60 0.60l-0.60 0.60l-0.60 -0.60zM397.05 341.25l0.60 0.60l-0.60 0.60l-0.60 -0.60zM397.05 344.25l0.60 0.60l-0.60 0.60l-0.60 -0.60zM397.05 347.25l0.60 0.60l-0.60 0.60l-0.60 -0.60zM397.05 350.25l0.60 0.60l-0.60 0.60l-0.60 -0.60zM397.05 353.25l0.60 0.60l-0.60 0.60l-0.60 -0.60zM397.05 356.25l0.60 0.60l-0.60 0.60l-0.60 -0.60zM398.55 324.75l0.60 0.60l-0.60 0.60l-0.60 -0.60zM398.55 327.75l0.60 0.60l-0.60 0.60l-0.60 -0.60zM398.55 330.75l0.60 0.60l-0.60 0.60l-0.60 -0.60zM398.55 333.75l0.60 0.60l-0.60 0.60l-0.60 -0.60zM398.55 336.75l0.60 0.60l-0.60 0.60l-0.60 -0.60zM398.55 339.75l0.60 0.60l-0.60 0.60l-0.60 -0.60zM398.55 342.75l0.60 0.60l-0.60 0.60l-0.60 -0.60zM398.55 345.75l0.60 0.60l-0.60 0.60l-0.60 -0.60zM398.55 348.75l0.60 0.60l-0.60 0.60l-0.60 -0.60zM398.55 351.75l0.60 0.60l-0.60 0.60l-0.60 -0.60zM398.55 354.75l0.60 0.60l-0.60 0.60l-0.60 -0.60zM400.05 326.25l0.60 0.60l-0.60 0.60l-0.60 -0.60zM400.05 329.25l0.60 0.60l-0.60 0.60l-0.60 -0.60zM400.05 332.25l0.60 0.60l-0.60 0.60l-0.60 -0.60zM400.05 335.25l0.60 0.60l-0.60 0.60l-0.60 -0.60zM400.05 338.25l0.60 0.60l-0.60 0.60l-0.60 -0.60zM400.05 341.25l0.60 0.60l-0.60 0.60l-0.60 -0.60zM400.05 344.25l0.60 0.60l-0.60 0.60l-0.60 -0.60zM400.05 347.25l0.60 0.60l-0.60 0.60l-0.60 -0.60zM400.05 350.25l0.60 0.60l-0.60 0.60l-0.60 -0.60zM400.05 353.25l0.60 0.60l-0.60 0.60l-0.60 -0.60zM400.05 356.25l0.60 0.60l-0.60 0.60l-0.60 -0.60zM401.55 324.75l0.60 0.60l-0.60 0.60l-0.60 -0.60zM401.55 327.75l0.60 0.60l-0.60 0.60l-0.60 -0.60zM401.55 330.75l0.60 0.60l-0.60 0.60l-0.60 -0.60zM401.55 333.75l0.60 0.60l-0.60 0.60l-0.60 -0.60zM401.55 336.75l0.60 0.60l-0.60 0.60l-0.60 -0.60zM401.55 339.75l0.60 0.60l-0.60 0.60l-0.60 -0.60zM401.55 342.75l0.60 0.60l-0.60 0.60l-0.60 -0.60zM401.55 345.75l0.60 0.60l-0.60 0.60l-0.60 -0.60zM401.55 348.75l0.60 0.60l-0.60 0.60l-0.60 -0.60zM401.55 351.75l0.60 0.60l-0.60 0.60l-0.60 -0.60zM401.55 354.75l0.60 0.60l-0.60 0.60l-0.60 -0.60zM403.05 326.25l0.60 0.60l-0.60 0.60l-0.60 -0.60zM403.05 329.25l0.60 0.60l-0.60 0.60l-0.60 -0.60zM403.05 332.25l0.60 0.60l-0.60 0.60l-0.60 -0.60zM403.05 335.25l0.60 0.60l-0.60 0.60l-0.60 -0.60zM403.05 338.25l0.60 0.60l-0.60 0.60l-0.60 -0.60zM403.05 341.25l0.60 0.60l-0.60 0.60l-0.60 -0.60zM403.05 344.25l0.60 0.60l-0.60 0.60l-0.60 -0.60zM403.05 347.25l0.60 0.60l-0.60 0.60l-0.60 -0.60zM403.05 350.25l0.60 0.60l-0.60 0.60l-0.60 -0.60zM403.05 353.25l0.60 0.60l-0.60 0.60l-0.60 -0.60zM403.05 356.25l0.60 0.60l-0.60 0.60l-0.60 -0.60zM404.55 324.75l0.60 0.60l-0.60 0.60l-0.60 -0.60zM404.55 327.75l0.60 0.60l-0.60 0.60l-0.60 -0.60zM404.55 330.75l0.60 0.60l-0.60 0.60l-0.60 -0.60zM404.55 333.75l0.60 0.60l-0.60 0.60l-0.60 -0.60zM404.55 336.75l0.60 0.60l-0.60 0.60l-0.60 -0.60zM404.55 339.75l0.60 0.60l-0.60 0.60l-0.60 -0.60zM404.55 342.75l0.60 0.60l-0.60 0.60l-0.60 -0.60zM404.55 345.75l0.60 0.60l-0.60 0.60l-0.60 -0.60zM404.55 348.75l0.60 0.60l-0.60 0.60l-0.60 -0.60zM404.55 351.75l0.60 0.60l-0.60 0.60l-0.60 -0.60zM404.55 354.75l0.60 0.60l-0.60 0.60l-0.60 -0.60zM406.05 326.25l0.60 0.60l-0.60 0.60l-0.60 -0.60zM406.05 329.25l0.60 0.60l-0.60 0.60l-0.60 -0.60zM406.05 332.25l0.60 0.60l-0.60 0.60l-0.60 -0.60zM406.05 335.25l0.60 0.60l-0.60 0.60l-0.60 -0.60zM406.05 338.25l0.60 0.60l-0.60 0.60l-0.60 -0.60zM406.05 341.25l0.60 0.60l-0.60 0.60l-0.60 -0.60zM406.05 344.25l0.60 0.60l-0.60 0.60l-0.60 -0.60zM406.05 347.25l0.60 0.60l-0.60 0.60l-0.60 -0.60zM406.05 350.25l0.60 0.60l-0.60 0.60l-0.60 -0.60zM406.05 353.25l0.60 0.60l-0.60 0.60l-0.60 -0.60zM406.05 356.25l0.60 0.60l-0.60 0.60l-0.60 -0.60zM407.55 324.75l0.60 0.60l-0.60 0.60l-0.60 -0.60zM407.55 327.75l0.60 0.60l-0.60 0.60l-0.60 -0.60zM407.55 330.75l0.60 0.60l-0.60 0.60l-0.60 -0.60zM407.55 333.75l0.60 0.60l-0.60 0.60l-0.60 -0.60zM407.55 336.75l0.60 0.60l-0.60 0.60l-0.60 -0.60zM407.55 339.75l0.60 0.60l-0.60 0.60l-0.60 -0.60zM407.55 342.75l0.60 0.60l-0.60 0.60l-0.60 -0.60zM407.55 345.75l0.60 0.60l-0.60 0.60l-0.60 -0.60zM407.55 348.75l0.60 0.60l-0.60 0.60l-0.60 -0.60zM407.55 351.75l0.60 0.60l-0.60 0.60l-0.60 -0.60zM407.55 354.75l0.60 0.60l-0.60 0.60l-0.60 -0.60zM409.05 326.25l0.60 0.60l-0.60 0.60l-0.60 -0.60zM409.05 329.25l0.60 0.60l-0.60 0.60l-0.60 -0.60zM409.05 332.25l0.60 0.60l-0.60 0.60l-0.60 -0.60zM409.05 335.25l0.60 0.60l-0.60 0.60l-0.60 -0.60zM409.05 338.25l0.60 0.60l-0.60 0.60l-0.60 -0.60zM409.05 341.25l0.60 0.60l-0.60 0.60l-0.60 -0.60zM409.05 344.25l0.60 0.60l-0.60 0.60l-0.60 -0.60zM409.05 347.25l0.60 0.60l-0.60 0.60l-0.60 -0.60zM409.05 350.25l0.60 0.60l-0.60 0.60l-0.60 -0.60zM409.05 353.25l0.60 0.60l-0.60 0.60l-0.60 -0.60zM409.05 356.25l0.60 0.60l-0.60 0.60l-0.60 -0.60zM410.55 324.75l0.60 0.60l-0.60 0.60l-0.60 -0.60zM410.55 327.75l0.60 0.60l-0.60 0.60l-0.60 -0.60zM410.55 330.75l0.60 0.60l-0.60 0.60l-0.60 -0.60zM410.55 333.75l0.60 0.60l-0.60 0.60l-0.60 -0.60zM410.55 336.75l0.60 0.60l-0.60 0.60l-0.60 -0.60zM410.55 339.75l0.60 0.60l-0.60 0.60l-0.60 -0.60zM410.55 342.75l0.60 0.60l-0.60 0.60l-0.60 -0.60zM410.55 345.75l0.60 0.60l-0.60 0.60l-0.60 -0.60zM410.55 348.75l0.60 0.60l-0.60 0.60l-0.60 -0.60zM410.55 351.75l0.60 0.60l-0.60 0.60l-0.60 -0.60zM410.55 354.75l0.60 0.60l-0.60 0.60l-0.60 -0.60zM412.05 326.25l0.60 0.60l-0.60 0.60l-0.60 -0.60zM412.05 329.25l0.60 0.60l-0.60 0.60l-0.60 -0.60zM412.05 332.25l0.60 0.60l-0.60 0.60l-0.60 -0.60zM412.05 335.25l0.60 0.60l-0.60 0.60l-0.60 -0.60zM412.05 338.25l0.60 0.60l-0.60 0.60l-0.60 -0.60zM412.05 341.25l0.60 0.60l-0.60 0.60l-0.60 -0.60zM412.05 344.25l0.60 0.60l-0.60 0.60l-0.60 -0.60zM412.05 347.25l0.60 0.60l-0.60 0.60l-0.60 -0.60zM412.05 350.25l0.60 0.60l-0.60 0.60l-0.60 -0.60zM412.05 353.25l0.60 0.60l-0.60 0.60l-0.60 -0.60zM412.05 356.25l0.60 0.60l-0.60 0.60l-0.60 -0.60zM413.55 324.75l0.60 0.60l-0.60 0.60l-0.60 -0.60zM413.55 327.75l0.60 0.60l-0.60 0.60l-0.60 -0.60zM413.55 330.75l0.60 0.60l-0.60 0.60l-0.60 -0.60zM413.55 333.75l0.60 0.60l-0.60 0.60l-0.60 -0.60zM413.55 336.75l0.60 0.60l-0.60 0.60l-0.60 -0.60zM413.55 339.75l0.60 0.60l-0.60 0.60l-0.60 -0.60zM413.55 342.75l0.60 0.60l-0.60 0.60l-0.60 -0.60zM413.55 345.75l0.60 0.60l-0.60 0.60l-0.60 -0.60zM413.55 348.75l0.60 0.60l-0.60 0.60l-0.60 -0.60zM413.55 351.75l0.60 0.60l-0.60 0.60l-0.60 -0.60zM413.55 354.75l0.60 0.60l-0.60 0.60l-0.60 -0.60zM415.05 326.25l0.60 0.60l-0.60 0.60l-0.60 -0.60zM415.05 329.25l0.60 0.60l-0.60 0.60l-0.60 -0.60zM415.05 332.25l0.60 0.60l-0.60 0.60l-0.60 -0.60zM415.05 335.25l0.60 0.60l-0.60 0.60l-0.60 -0.60zM415.05 338.25l0.60 0.60l-0.60 0.60l-0.60 -0.60zM415.05 341.25l0.60 0.60l-0.60 0.60l-0.60 -0.60zM415.05 344.25l0.60 0.60l-0.60 0.60l-0.60 -0.60zM415.05 347.25l0.60 0.60l-0.60 0.60l-0.60 -0.60zM415.05 350.25l0.60 0.60l-0.60 0.60l-0.60 -0.60zM415.05 353.25l0.60 0.60l-0.60 0.60l-0.60 -0.60zM415.05 356.25l0.60 0.60l-0.60 0.60l-0.60 -0.60zM416.55 324.75l0.60 0.60l-0.60 0.60l-0.60 -0.60zM416.55 327.75l0.60 0.60l-0.60 0.60l-0.60 -0.60zM416.55 330.75l0.60 0.60l-0.60 0.60l-0.60 -0.60zM416.55 333.75l0.60 0.60l-0.60 0.60l-0.60 -0.60zM416.55 336.75l0.60 0.60l-0.60 0.60l-0.60 -0.60zM416.55 339.75l0.60 0.60l-0.60 0.60l-0.60 -0.60zM416.55 342.75l0.60 0.60l-0.60 0.60l-0.60 -0.60zM416.55 345.75l0.60 0.60l-0.60 0.60l-0.60 -0.60zM416.55 348.75l0.60 0.60l-0.60 0.60l-0.60 -0.60zM416.55 351.75l0.60 0.60l-0.60 0.60l-0.60 -0.60zM416.55 354.75l0.60 0.60l-0.60 0.60l-0.60 -0.60zM418.05 326.25l0.60 0.60l-0.60 0.60l-0.60 -0.60zM418.05 329.25l0.60 0.60l-0.60 0.60l-0.60 -0.60zM418.05 332.25l0.60 0.60l-0.60 0.60l-0.60 -0.60zM418.05 335.25l0.60 0.60l-0.60 0.60l-0.60 -0.60zM418.05 338.25l0.60 0.60l-0.60 0.60l-0.60 -0.60zM418.05 341.25l0.60 0.60l-0.60 0.60l-0.60 -0.60zM418.05 344.25l0.60 0.60l-0.60 0.60l-0.60 -0.60zM418.05 347.25l0.60 0.60l-0.60 0.60l-0.60 -0.60zM418.05 350.25l0.60 0.60l-0.60 0.60l-0.60 -0.60zM418.05 353.25l0.60 0.60l-0.60 0.60l-0.60 -0.60zM418.05 356.25l0.60 0.60l-0.60 0.60l-0.60 -0.60zM419.55 324.75l0.60 0.60l-0.60 0.60l-0.60 -0.60zM419.55 327.75l0.60 0.60l-0.60 0.60l-0.60 -0.60zM419.55 330.75l0.60 0.60l-0.60 0.60l-0.60 -0.60zM419.55 333.75l0.60 0.60l-0.60 0.60l-0.60 -0.60zM419.55 336.75l0.60 0.60l-0.60 0.60l-0.60 -0.60zM419.55 339.75l0.60 0.60l-0.60 0.60l-0.60 -0.60zM419.55 342.75l0.60 0.60l-0.60 0.60l-0.60 -0.60zM419.55 345.75l0.60 0.60l-0.60 0.60l-0.60 -0.60zM419.55 348.75l0.60 0.60l-0.60 0.60l-0.60 -0.60zM419.55 351.75l0.60 0.60l-0.60 0.60l-0.60 -0.60zM419.55 354.75l0.60 0.60l-0.60 0.60l-0.60 -0.60z" fill="#525252"/>
<rect x="389.54" y="328.32" width="27.27" height="25.83" fill="none" stroke="#222" stroke-width="1"/>
<line x1="375.40" y1="354.15" x2="375.40" y2="357.75" stroke="#444" stroke-width="0.7"/>
<text x="375.90" y="368.9" font-size="9.2" text-anchor="middle">CpG</text>
<path d="M443.50 239.92V163.22" stroke="#1c1c1c" stroke-width="1" fill="none"/><path d="M440.60 163.22H446.50" stroke="#111" stroke-width="1.25" fill="none"/>
<path d="M498.00 343.72V340.82" stroke="#1c1c1c" stroke-width="1" fill="none"/><path d="M495.10 340.82H501.00" stroke="#111" stroke-width="1.25" fill="none"/>
<rect x="429.20" y="241.62" width="27.87" height="112.53" fill="#000"/>
<path clip-path="url(#c11)" d="M447.98 329.20l2.45 2.45l-2.45 2.45l-2.45 -2.45zM447.98 335.00l2.45 2.45l-2.45 2.45l-2.45 -2.45zM447.98 340.80l2.45 2.45l-2.45 2.45l-2.45 -2.45zM447.98 346.60l2.45 2.45l-2.45 2.45l-2.45 -2.45zM447.98 352.40l2.45 2.45l-2.45 2.45l-2.45 -2.45zM447.98 358.20l2.45 2.45l-2.45 2.45l-2.45 -2.45zM453.96 329.20l2.45 2.45l-2.45 2.45l-2.45 -2.45zM453.96 335.00l2.45 2.45l-2.45 2.45l-2.45 -2.45zM453.96 340.80l2.45 2.45l-2.45 2.45l-2.45 -2.45zM453.96 346.60l2.45 2.45l-2.45 2.45l-2.45 -2.45zM453.96 352.40l2.45 2.45l-2.45 2.45l-2.45 -2.45zM453.96 358.20l2.45 2.45l-2.45 2.45l-2.45 -2.45zM459.94 329.20l2.45 2.45l-2.45 2.45l-2.45 -2.45zM459.94 335.00l2.45 2.45l-2.45 2.45l-2.45 -2.45zM459.94 340.80l2.45 2.45l-2.45 2.45l-2.45 -2.45zM459.94 346.60l2.45 2.45l-2.45 2.45l-2.45 -2.45zM459.94 352.40l2.45 2.45l-2.45 2.45l-2.45 -2.45zM459.94 358.20l2.45 2.45l-2.45 2.45l-2.45 -2.45zM465.92 329.20l2.45 2.45l-2.45 2.45l-2.45 -2.45zM465.92 335.00l2.45 2.45l-2.45 2.45l-2.45 -2.45zM465.92 340.80l2.45 2.45l-2.45 2.45l-2.45 -2.45zM465.92 346.60l2.45 2.45l-2.45 2.45l-2.45 -2.45zM465.92 352.40l2.45 2.45l-2.45 2.45l-2.45 -2.45zM465.92 358.20l2.45 2.45l-2.45 2.45l-2.45 -2.45zM471.90 329.20l2.45 2.45l-2.45 2.45l-2.45 -2.45zM471.90 335.00l2.45 2.45l-2.45 2.45l-2.45 -2.45zM471.90 340.80l2.45 2.45l-2.45 2.45l-2.45 -2.45zM471.90 346.60l2.45 2.45l-2.45 2.45l-2.45 -2.45zM471.90 352.40l2.45 2.45l-2.45 2.45l-2.45 -2.45zM471.90 358.20l2.45 2.45l-2.45 2.45l-2.45 -2.45zM477.88 329.20l2.45 2.45l-2.45 2.45l-2.45 -2.45zM477.88 335.00l2.45 2.45l-2.45 2.45l-2.45 -2.45zM477.88 340.80l2.45 2.45l-2.45 2.45l-2.45 -2.45zM477.88 346.60l2.45 2.45l-2.45 2.45l-2.45 -2.45zM477.88 352.40l2.45 2.45l-2.45 2.45l-2.45 -2.45zM477.88 358.20l2.45 2.45l-2.45 2.45l-2.45 -2.45zM483.86 329.20l2.45 2.45l-2.45 2.45l-2.45 -2.45zM483.86 335.00l2.45 2.45l-2.45 2.45l-2.45 -2.45zM483.86 340.80l2.45 2.45l-2.45 2.45l-2.45 -2.45zM483.86 346.60l2.45 2.45l-2.45 2.45l-2.45 -2.45zM483.86 352.40l2.45 2.45l-2.45 2.45l-2.45 -2.45zM483.86 358.20l2.45 2.45l-2.45 2.45l-2.45 -2.45zM489.84 329.20l2.45 2.45l-2.45 2.45l-2.45 -2.45zM489.84 335.00l2.45 2.45l-2.45 2.45l-2.45 -2.45zM489.84 340.80l2.45 2.45l-2.45 2.45l-2.45 -2.45zM489.84 346.60l2.45 2.45l-2.45 2.45l-2.45 -2.45zM489.84 352.40l2.45 2.45l-2.45 2.45l-2.45 -2.45zM489.84 358.20l2.45 2.45l-2.45 2.45l-2.45 -2.45z" fill="#000"/>
<rect x="456.57" y="337.97" width="27.27" height="16.18" fill="none" stroke="#111" stroke-width="1"/>
<path clip-path="url(#c12)" d="M468.62 344.42L479.35 355.15M471.62 344.42L482.35 355.15M474.62 344.42L485.35 355.15M477.62 344.42L488.35 355.15M480.62 344.42L491.35 355.15M483.62 344.42L494.35 355.15M486.62 344.42L497.35 355.15M489.62 344.42L500.35 355.15M492.62 344.42L503.35 355.15M495.62 344.42L506.35 355.15M498.62 344.42L509.35 355.15M501.62 344.42L512.35 355.15M504.62 344.42L515.35 355.15M507.62 344.42L518.35 355.15M510.62 344.42L521.35 355.15M513.62 344.42L524.35 355.15M481.48 344.42L470.75 355.15M484.48 344.42L473.75 355.15M487.48 344.42L476.75 355.15M490.48 344.42L479.75 355.15M493.48 344.42L482.75 355.15M496.48 344.42L485.75 355.15M499.48 344.42L488.75 355.15M502.48 344.42L491.75 355.15M505.48 344.42L494.75 355.15M508.48 344.42L497.75 355.15M511.48 344.42L500.75 355.15M514.48 344.42L503.75 355.15M517.48 344.42L506.75 355.15M520.48 344.42L509.75 355.15M523.48 344.42L512.75 355.15M526.48 344.42L515.75 355.15" stroke="#cacaca" stroke-width="0.42" fill="none"/><path clip-path="url(#c12)" d="M481.05 344.25l0.60 0.60l-0.60 0.60l-0.60 -0.60zM481.05 347.25l0.60 0.60l-0.60 0.60l-0.60 -0.60zM481.05 350.25l0.60 0.60l-0.60 0.60l-0.60 -0.60zM481.05 353.25l0.60 0.60l-0.60 0.60l-0.60 -0.60zM481.05 356.25l0.60 0.60l-0.60 0.60l-0.60 -0.60zM482.55 342.75l0.60 0.60l-0.60 0.60l-0.60 -0.60zM482.55 345.75l0.60 0.60l-0.60 0.60l-0.60 -0.60zM482.55 348.75l0.60 0.60l-0.60 0.60l-0.60 -0.60zM482.55 351.75l0.60 0.60l-0.60 0.60l-0.60 -0.60zM482.55 354.75l0.60 0.60l-0.60 0.60l-0.60 -0.60zM484.05 344.25l0.60 0.60l-0.60 0.60l-0.60 -0.60zM484.05 347.25l0.60 0.60l-0.60 0.60l-0.60 -0.60zM484.05 350.25l0.60 0.60l-0.60 0.60l-0.60 -0.60zM484.05 353.25l0.60 0.60l-0.60 0.60l-0.60 -0.60zM484.05 356.25l0.60 0.60l-0.60 0.60l-0.60 -0.60zM485.55 342.75l0.60 0.60l-0.60 0.60l-0.60 -0.60zM485.55 345.75l0.60 0.60l-0.60 0.60l-0.60 -0.60zM485.55 348.75l0.60 0.60l-0.60 0.60l-0.60 -0.60zM485.55 351.75l0.60 0.60l-0.60 0.60l-0.60 -0.60zM485.55 354.75l0.60 0.60l-0.60 0.60l-0.60 -0.60zM487.05 344.25l0.60 0.60l-0.60 0.60l-0.60 -0.60zM487.05 347.25l0.60 0.60l-0.60 0.60l-0.60 -0.60zM487.05 350.25l0.60 0.60l-0.60 0.60l-0.60 -0.60zM487.05 353.25l0.60 0.60l-0.60 0.60l-0.60 -0.60zM487.05 356.25l0.60 0.60l-0.60 0.60l-0.60 -0.60zM488.55 342.75l0.60 0.60l-0.60 0.60l-0.60 -0.60zM488.55 345.75l0.60 0.60l-0.60 0.60l-0.60 -0.60zM488.55 348.75l0.60 0.60l-0.60 0.60l-0.60 -0.60zM488.55 351.75l0.60 0.60l-0.60 0.60l-0.60 -0.60zM488.55 354.75l0.60 0.60l-0.60 0.60l-0.60 -0.60zM490.05 344.25l0.60 0.60l-0.60 0.60l-0.60 -0.60zM490.05 347.25l0.60 0.60l-0.60 0.60l-0.60 -0.60zM490.05 350.25l0.60 0.60l-0.60 0.60l-0.60 -0.60zM490.05 353.25l0.60 0.60l-0.60 0.60l-0.60 -0.60zM490.05 356.25l0.60 0.60l-0.60 0.60l-0.60 -0.60zM491.55 342.75l0.60 0.60l-0.60 0.60l-0.60 -0.60zM491.55 345.75l0.60 0.60l-0.60 0.60l-0.60 -0.60zM491.55 348.75l0.60 0.60l-0.60 0.60l-0.60 -0.60zM491.55 351.75l0.60 0.60l-0.60 0.60l-0.60 -0.60zM491.55 354.75l0.60 0.60l-0.60 0.60l-0.60 -0.60zM493.05 344.25l0.60 0.60l-0.60 0.60l-0.60 -0.60zM493.05 347.25l0.60 0.60l-0.60 0.60l-0.60 -0.60zM493.05 350.25l0.60 0.60l-0.60 0.60l-0.60 -0.60zM493.05 353.25l0.60 0.60l-0.60 0.60l-0.60 -0.60zM493.05 356.25l0.60 0.60l-0.60 0.60l-0.60 -0.60zM494.55 342.75l0.60 0.60l-0.60 0.60l-0.60 -0.60zM494.55 345.75l0.60 0.60l-0.60 0.60l-0.60 -0.60zM494.55 348.75l0.60 0.60l-0.60 0.60l-0.60 -0.60zM494.55 351.75l0.60 0.60l-0.60 0.60l-0.60 -0.60zM494.55 354.75l0.60 0.60l-0.60 0.60l-0.60 -0.60zM496.05 344.25l0.60 0.60l-0.60 0.60l-0.60 -0.60zM496.05 347.25l0.60 0.60l-0.60 0.60l-0.60 -0.60zM496.05 350.25l0.60 0.60l-0.60 0.60l-0.60 -0.60zM496.05 353.25l0.60 0.60l-0.60 0.60l-0.60 -0.60zM496.05 356.25l0.60 0.60l-0.60 0.60l-0.60 -0.60zM497.55 342.75l0.60 0.60l-0.60 0.60l-0.60 -0.60zM497.55 345.75l0.60 0.60l-0.60 0.60l-0.60 -0.60zM497.55 348.75l0.60 0.60l-0.60 0.60l-0.60 -0.60zM497.55 351.75l0.60 0.60l-0.60 0.60l-0.60 -0.60zM497.55 354.75l0.60 0.60l-0.60 0.60l-0.60 -0.60zM499.05 344.25l0.60 0.60l-0.60 0.60l-0.60 -0.60zM499.05 347.25l0.60 0.60l-0.60 0.60l-0.60 -0.60zM499.05 350.25l0.60 0.60l-0.60 0.60l-0.60 -0.60zM499.05 353.25l0.60 0.60l-0.60 0.60l-0.60 -0.60zM499.05 356.25l0.60 0.60l-0.60 0.60l-0.60 -0.60zM500.55 342.75l0.60 0.60l-0.60 0.60l-0.60 -0.60zM500.55 345.75l0.60 0.60l-0.60 0.60l-0.60 -0.60zM500.55 348.75l0.60 0.60l-0.60 0.60l-0.60 -0.60zM500.55 351.75l0.60 0.60l-0.60 0.60l-0.60 -0.60zM500.55 354.75l0.60 0.60l-0.60 0.60l-0.60 -0.60zM502.05 344.25l0.60 0.60l-0.60 0.60l-0.60 -0.60zM502.05 347.25l0.60 0.60l-0.60 0.60l-0.60 -0.60zM502.05 350.25l0.60 0.60l-0.60 0.60l-0.60 -0.60zM502.05 353.25l0.60 0.60l-0.60 0.60l-0.60 -0.60zM502.05 356.25l0.60 0.60l-0.60 0.60l-0.60 -0.60zM503.55 342.75l0.60 0.60l-0.60 0.60l-0.60 -0.60zM503.55 345.75l0.60 0.60l-0.60 0.60l-0.60 -0.60zM503.55 348.75l0.60 0.60l-0.60 0.60l-0.60 -0.60zM503.55 351.75l0.60 0.60l-0.60 0.60l-0.60 -0.60zM503.55 354.75l0.60 0.60l-0.60 0.60l-0.60 -0.60zM505.05 344.25l0.60 0.60l-0.60 0.60l-0.60 -0.60zM505.05 347.25l0.60 0.60l-0.60 0.60l-0.60 -0.60zM505.05 350.25l0.60 0.60l-0.60 0.60l-0.60 -0.60zM505.05 353.25l0.60 0.60l-0.60 0.60l-0.60 -0.60zM505.05 356.25l0.60 0.60l-0.60 0.60l-0.60 -0.60zM506.55 342.75l0.60 0.60l-0.60 0.60l-0.60 -0.60zM506.55 345.75l0.60 0.60l-0.60 0.60l-0.60 -0.60zM506.55 348.75l0.60 0.60l-0.60 0.60l-0.60 -0.60zM506.55 351.75l0.60 0.60l-0.60 0.60l-0.60 -0.60zM506.55 354.75l0.60 0.60l-0.60 0.60l-0.60 -0.60zM508.05 344.25l0.60 0.60l-0.60 0.60l-0.60 -0.60zM508.05 347.25l0.60 0.60l-0.60 0.60l-0.60 -0.60zM508.05 350.25l0.60 0.60l-0.60 0.60l-0.60 -0.60zM508.05 353.25l0.60 0.60l-0.60 0.60l-0.60 -0.60zM508.05 356.25l0.60 0.60l-0.60 0.60l-0.60 -0.60zM509.55 342.75l0.60 0.60l-0.60 0.60l-0.60 -0.60zM509.55 345.75l0.60 0.60l-0.60 0.60l-0.60 -0.60zM509.55 348.75l0.60 0.60l-0.60 0.60l-0.60 -0.60zM509.55 351.75l0.60 0.60l-0.60 0.60l-0.60 -0.60zM509.55 354.75l0.60 0.60l-0.60 0.60l-0.60 -0.60zM511.05 344.25l0.60 0.60l-0.60 0.60l-0.60 -0.60zM511.05 347.25l0.60 0.60l-0.60 0.60l-0.60 -0.60zM511.05 350.25l0.60 0.60l-0.60 0.60l-0.60 -0.60zM511.05 353.25l0.60 0.60l-0.60 0.60l-0.60 -0.60zM511.05 356.25l0.60 0.60l-0.60 0.60l-0.60 -0.60zM512.55 342.75l0.60 0.60l-0.60 0.60l-0.60 -0.60zM512.55 345.75l0.60 0.60l-0.60 0.60l-0.60 -0.60zM512.55 348.75l0.60 0.60l-0.60 0.60l-0.60 -0.60zM512.55 351.75l0.60 0.60l-0.60 0.60l-0.60 -0.60zM512.55 354.75l0.60 0.60l-0.60 0.60l-0.60 -0.60zM514.05 344.25l0.60 0.60l-0.60 0.60l-0.60 -0.60zM514.05 347.25l0.60 0.60l-0.60 0.60l-0.60 -0.60zM514.05 350.25l0.60 0.60l-0.60 0.60l-0.60 -0.60zM514.05 353.25l0.60 0.60l-0.60 0.60l-0.60 -0.60zM514.05 356.25l0.60 0.60l-0.60 0.60l-0.60 -0.60z" fill="#525252"/>
<rect x="483.84" y="345.42" width="27.27" height="8.73" fill="none" stroke="#222" stroke-width="1"/>
<line x1="469.71" y1="354.15" x2="469.71" y2="357.75" stroke="#444" stroke-width="0.7"/>
<text x="470.21" y="368.9" font-size="9.2" text-anchor="middle">Flt3L/LPS</text>
<text x="156.50" y="67.85" font-size="6.6" text-anchor="middle" style="font-family:'DejaVu Sans',sans-serif;font-weight:normal;stroke:#111;stroke-width:0.35px">★</text>
<text x="252.60" y="52.85" font-size="6.6" text-anchor="middle" style="font-family:'DejaVu Sans',sans-serif;font-weight:normal;stroke:#111;stroke-width:0.35px">★</text>
<text x="345.00" y="197.65" font-size="6.6" text-anchor="middle" style="font-family:'DejaVu Sans',sans-serif;font-weight:normal;stroke:#111;stroke-width:0.35px">★</text>
<g clip-path="url(#c13)"><text transform="translate(443.0 168.7) scale(1.69 2.6)" font-size="10" text-anchor="middle" vector-effect="non-scaling-stroke" style="stroke:#111;stroke-width:0.5px">#</text></g>
</g>
</svg></body></html>
